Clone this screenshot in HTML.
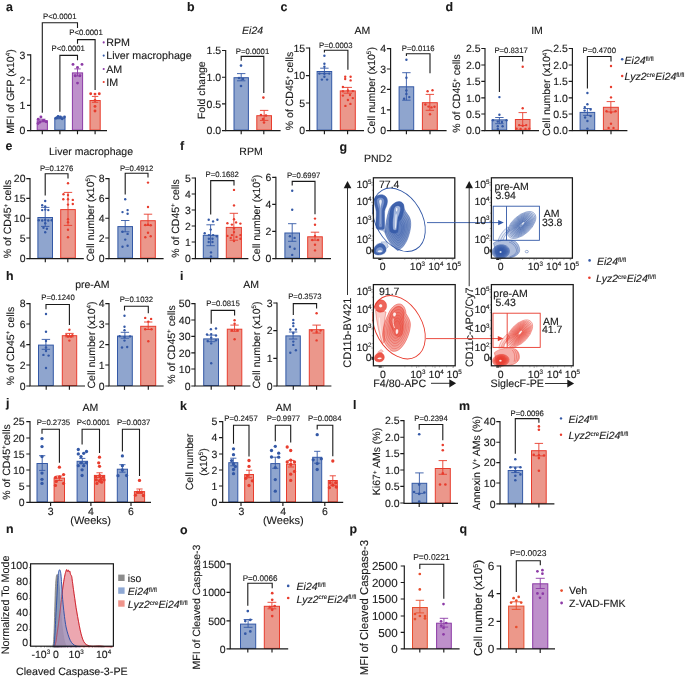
<!DOCTYPE html>
<html><head><meta charset="utf-8"><title>Figure</title>
<style>
html,body{margin:0;padding:0;background:#fff;}
body{width:685px;height:678px;overflow:hidden;}
svg{display:block;font-family:"Liberation Sans",sans-serif;text-rendering:geometricPrecision;will-change:transform;}
text{fill:#1a1a1a;stroke:#1a1a1a;stroke-width:0.12px;}
</style></head><body>
<svg width="685" height="678" viewBox="0 0 685 678">
<rect width="685" height="678" fill="#ffffff"/>
<g id="bars">
<text x="6" y="10.6" font-size="12.4" font-weight="bold">a</text>
<rect x="37.2" y="120.8" width="10.2" height="9.3" fill="#be90cb" stroke="#8c3aa6" stroke-width="1"/>
<path d="M42.3 119.2V121.8M39.1 119.2h6.4M39.1 121.8h6.4" stroke="#8c3aa6" stroke-width="0.9" fill="none"/>
<g fill="#8c3aa6"><circle cx="40.9" cy="117" r="1.45"/><circle cx="38.2" cy="119.3" r="1.45"/><circle cx="43.9" cy="120.5" r="1.45"/><circle cx="39.8" cy="122.3" r="1.45"/><circle cx="46.2" cy="121.7" r="1.45"/><circle cx="38" cy="123.5" r="1.45"/></g>
<rect x="54.8" y="118.1" width="10.2" height="12" fill="#8fa5ce" stroke="#3358a6" stroke-width="1"/>
<path d="M59.9 117V118.8M56.7 117h6.4M56.7 118.8h6.4" stroke="#3358a6" stroke-width="0.9" fill="none"/>
<g fill="#3358a6"><circle cx="55.9" cy="118.2" r="1.45"/><circle cx="58.1" cy="116.4" r="1.45"/><circle cx="60.4" cy="117" r="1.45"/><circle cx="62.2" cy="118.7" r="1.45"/><circle cx="64.5" cy="117" r="1.45"/><circle cx="57.1" cy="117.6" r="1.45"/></g>
<rect x="72.4" y="72.9" width="10.2" height="57.2" fill="#be90cb" stroke="#8c3aa6" stroke-width="1"/>
<path d="M77.5 68.9V76M74.3 68.9h6.4M74.3 76h6.4" stroke="#8c3aa6" stroke-width="0.9" fill="none"/>
<g fill="#8c3aa6"><circle cx="73" cy="64.4" r="1.45"/><circle cx="82" cy="64.4" r="1.45"/><circle cx="77.5" cy="67.4" r="1.45"/><circle cx="75.2" cy="75.7" r="1.45"/><circle cx="79.9" cy="75.7" r="1.45"/><circle cx="77.5" cy="83.1" r="1.45"/></g>
<rect x="90" y="100.5" width="10.2" height="29.6" fill="#eb978b" stroke="#e83c2d" stroke-width="1"/>
<path d="M95.1 96.4V102.3M91.9 96.4h6.4M91.9 102.3h6.4" stroke="#e83c2d" stroke-width="0.9" fill="none"/>
<g fill="#e83c2d"><circle cx="90.7" cy="93.8" r="1.45"/><circle cx="95" cy="94.1" r="1.45"/><circle cx="99.3" cy="93.8" r="1.45"/><circle cx="95" cy="100.4" r="1.45"/><circle cx="95" cy="106.4" r="1.45"/><circle cx="95" cy="111" r="1.45"/></g>
<path d="M42.3 112.8V22.8H77.5V28" stroke="#1a1a1a" stroke-width="1.1" fill="none"/>
<text x="59.8" y="18.57" font-size="7.75" text-anchor="middle" fill="#262626" stroke="#262626" stroke-width="0.18">P&lt;0.0001</text>
<path d="M77.5 43.8V39.6H95.1V90" stroke="#1a1a1a" stroke-width="1.1" fill="none"/>
<text x="86" y="34.97" font-size="7.75" text-anchor="middle" fill="#262626" stroke="#262626" stroke-width="0.18">P&lt;0.0001</text>
<path d="M59.9 111.7V55.4H77.5V60.3" stroke="#1a1a1a" stroke-width="1.1" fill="none"/>
<text x="68.2" y="51.37" font-size="7.75" text-anchor="middle" fill="#262626" stroke="#262626" stroke-width="0.18">P&lt;0.0001</text>
<text transform="translate(9.8 91.5) rotate(-90)" x="0" y="3.76" font-size="10.5" text-anchor="middle">MFI of GFP (x10<tspan dy="-3.78" font-size="6.3">4</tspan><tspan dy="3.78">)</tspan></text>
<circle cx="103.7" cy="42.4" r="1.05" fill="#8c3aa6"/>
<text x="106.2" y="46.23" font-size="10.7">RPM</text>
<circle cx="103.7" cy="55.6" r="1.05" fill="#3358a6"/>
<text x="106.2" y="59.43" font-size="10.7">Liver macrophage</text>
<circle cx="103.7" cy="69" r="1.05" fill="#8c3aa6"/>
<text x="106.2" y="72.83" font-size="10.7">AM</text>
<circle cx="103.7" cy="82" r="1.05" fill="#e83c2d"/>
<text x="106.2" y="85.83" font-size="10.7">IM</text>
<text x="187" y="11" font-size="12.4" font-weight="bold">b</text>
<text x="252.6" y="33.76" font-size="10.5" text-anchor="middle" font-style="italic">Ei24</text>
<rect x="234" y="77.7" width="14.4" height="52.4" fill="#8fa5ce" stroke="#3358a6" stroke-width="1"/>
<path d="M241.2 73.6V80.8M237 73.6h8.4M237 80.8h8.4" stroke="#3358a6" stroke-width="0.9" fill="none"/>
<g fill="#3358a6"><circle cx="241" cy="65.6" r="1.3"/><circle cx="239" cy="78" r="1.3"/><circle cx="243" cy="79" r="1.3"/><circle cx="241" cy="86" r="1.3"/></g>
<rect x="256.8" y="115.7" width="14.7" height="14.4" fill="#eb978b" stroke="#e83c2d" stroke-width="1"/>
<path d="M264.15 110.4V120.4M259.95 110.4h8.4M259.95 120.4h8.4" stroke="#e83c2d" stroke-width="0.9" fill="none"/>
<g fill="#e83c2d"><circle cx="263.4" cy="97.6" r="1.3"/><circle cx="261" cy="115" r="1.3"/><circle cx="266" cy="115.5" r="1.3"/><circle cx="263" cy="119" r="1.3"/><circle cx="264" cy="122.5" r="1.3"/></g>
<path d="M241.2 60.8V56.4H263.8V93" stroke="#1a1a1a" stroke-width="1.1" fill="none"/>
<text x="252.5" y="53.77" font-size="7.75" text-anchor="middle" fill="#262626" stroke="#262626" stroke-width="0.18">P=0.0001</text>
<text transform="translate(201.4 90.2) rotate(-90)" x="0" y="3.76" font-size="10.5" text-anchor="middle">Fold change</text>
<text x="280.6" y="10.7" font-size="12.4" font-weight="bold">c</text>
<text x="362.4" y="33.76" font-size="10.5" text-anchor="middle">AM</text>
<rect x="317.1" y="71.5" width="14.6" height="58.6" fill="#8fa5ce" stroke="#3358a6" stroke-width="1"/>
<path d="M324.4 68.2V73.6M320.2 68.2h8.4M320.2 73.6h8.4" stroke="#3358a6" stroke-width="0.9" fill="none"/>
<g fill="#3358a6"><circle cx="324.4" cy="55.7" r="1.2"/><circle cx="324.4" cy="63.8" r="1.2"/><circle cx="324.4" cy="66.8" r="1.2"/><circle cx="319.4" cy="73.6" r="1.2"/><circle cx="324.4" cy="73.8" r="1.2"/><circle cx="329.3" cy="73.6" r="1.2"/><circle cx="324.4" cy="76.7" r="1.2"/><circle cx="321.9" cy="79.6" r="1.2"/><circle cx="327.1" cy="79.6" r="1.2"/></g>
<rect x="340.3" y="90.9" width="15" height="39.2" fill="#eb978b" stroke="#e83c2d" stroke-width="1"/>
<path d="M347.8 87.4V93.2M343.6 87.4h8.4M343.6 93.2h8.4" stroke="#e83c2d" stroke-width="0.9" fill="none"/>
<g fill="#e83c2d"><circle cx="345.2" cy="76.7" r="1.2"/><circle cx="350.6" cy="76.7" r="1.2"/><circle cx="345.2" cy="79" r="1.2"/><circle cx="350.6" cy="80.4" r="1.2"/><circle cx="342.9" cy="87" r="1.2"/><circle cx="342.9" cy="91.3" r="1.2"/><circle cx="352.8" cy="91.1" r="1.2"/><circle cx="342.9" cy="95.6" r="1.2"/><circle cx="352.8" cy="98.1" r="1.2"/><circle cx="347.9" cy="100" r="1.2"/><circle cx="350.4" cy="103.9" r="1.2"/><circle cx="345.4" cy="105.9" r="1.2"/><circle cx="347.9" cy="90.5" r="1.2"/><circle cx="350" cy="95" r="1.2"/></g>
<path d="M324.4 52.6V50.2H347.9V69.7" stroke="#1a1a1a" stroke-width="1.1" fill="none"/>
<text x="335.8" y="47.57" font-size="7.75" text-anchor="middle" fill="#262626" stroke="#262626" stroke-width="0.18">P=0.0003</text>
<text transform="translate(289.6 91) rotate(-90)" x="0" y="3.76" font-size="10.5" text-anchor="middle">% of CD45<tspan dy="-3.78" font-size="6.3">+</tspan><tspan dy="3.78"> cells</tspan></text>
<text transform="translate(371.4 90.6) rotate(-90)" x="0" y="3.76" font-size="10.5" text-anchor="middle">Cell number (x10<tspan dy="-3.78" font-size="6.3">5</tspan><tspan dy="3.78">)</tspan></text>
<rect x="399.1" y="86.8" width="14.6" height="43.3" fill="#8fa5ce" stroke="#3358a6" stroke-width="1"/>
<path d="M406.4 72.7V100.2M402.2 72.7h8.4M402.2 100.2h8.4" stroke="#3358a6" stroke-width="0.9" fill="none"/>
<g fill="#3358a6"><circle cx="406.4" cy="59.7" r="1.2"/><circle cx="406.4" cy="77.7" r="1.2"/><circle cx="406.4" cy="90.5" r="1.2"/><circle cx="406.4" cy="93.9" r="1.2"/><circle cx="404.1" cy="98.8" r="1.2"/><circle cx="409.3" cy="97.1" r="1.2"/></g>
<rect x="422.4" y="102.7" width="14.9" height="27.4" fill="#eb978b" stroke="#e83c2d" stroke-width="1"/>
<path d="M429.85 94.4V110.3M425.65 94.4h8.4M425.65 110.3h8.4" stroke="#e83c2d" stroke-width="0.9" fill="none"/>
<g fill="#e83c2d"><circle cx="427.6" cy="91.2" r="1.2"/><circle cx="432.5" cy="90.2" r="1.2"/><circle cx="425.4" cy="104.5" r="1.2"/><circle cx="434.5" cy="106.8" r="1.2"/><circle cx="428.5" cy="106.6" r="1.2"/><circle cx="431.5" cy="107.4" r="1.2"/><circle cx="430" cy="114.3" r="1.2"/></g>
<path d="M406.4 55.9V53.8H430V73.2" stroke="#1a1a1a" stroke-width="1.1" fill="none"/>
<text x="418.2" y="50.97" font-size="7.75" text-anchor="middle" fill="#262626" stroke="#262626" stroke-width="0.18">P=0.0116</text>
<text x="445.4" y="11" font-size="12.4" font-weight="bold">d</text>
<text x="537" y="33.76" font-size="10.5" text-anchor="middle">IM</text>
<rect x="492.1" y="119.9" width="14.6" height="10.2" fill="#8fa5ce" stroke="#3358a6" stroke-width="1"/>
<path d="M499.4 117.5V123.7M495.2 117.5h8.4M495.2 123.7h8.4" stroke="#3358a6" stroke-width="0.9" fill="none"/>
<g fill="#3358a6"><circle cx="499.4" cy="97.1" r="1.2"/><circle cx="499.4" cy="114.7" r="1.2"/><circle cx="492.9" cy="120.3" r="1.2"/><circle cx="506.5" cy="120.3" r="1.2"/><circle cx="497.8" cy="121.6" r="1.2"/><circle cx="501.9" cy="122" r="1.2"/><circle cx="497.8" cy="126.2" r="1.2"/><circle cx="502.6" cy="126.2" r="1.2"/><circle cx="497.8" cy="129" r="1.2"/></g>
<rect x="515.4" y="119.5" width="14.6" height="10.6" fill="#eb978b" stroke="#e83c2d" stroke-width="1"/>
<path d="M522.7 112.6V125.5M518.5 112.6h8.4M518.5 125.5h8.4" stroke="#e83c2d" stroke-width="0.9" fill="none"/>
<g fill="#e83c2d"><circle cx="522.7" cy="66.7" r="1.2"/><circle cx="522.7" cy="108.2" r="1.2"/><circle cx="519.2" cy="125.1" r="1.2"/><circle cx="522.7" cy="125.8" r="1.2"/><circle cx="526.2" cy="125.1" r="1.2"/><circle cx="516.5" cy="128.6" r="1.2"/><circle cx="520.6" cy="129" r="1.2"/><circle cx="525.5" cy="129" r="1.2"/><circle cx="529.2" cy="128.6" r="1.2"/></g>
<path d="M499.4 91.9V56.5H522.7V61.4" stroke="#1a1a1a" stroke-width="1.1" fill="none"/>
<text x="511.1" y="52.57" font-size="7.75" text-anchor="middle" fill="#262626" stroke="#262626" stroke-width="0.18">P=0.8317</text>
<text transform="translate(456.6 93.5) rotate(-90)" x="0" y="3.76" font-size="10.5" text-anchor="middle">% of CD45<tspan dy="-3.78" font-size="6.3">+</tspan><tspan dy="3.78"> cells</tspan></text>
<text transform="translate(546.6 92.6) rotate(-90)" x="0" y="3.76" font-size="10.5" text-anchor="middle">Cell number (x10<tspan dy="-3.78" font-size="6.3">4</tspan><tspan dy="3.78">)</tspan></text>
<rect x="580.1" y="112.4" width="14.6" height="17.7" fill="#8fa5ce" stroke="#3358a6" stroke-width="1"/>
<path d="M587.4 108.5V115.4M583.2 108.5h8.4M583.2 115.4h8.4" stroke="#3358a6" stroke-width="0.9" fill="none"/>
<g fill="#3358a6"><circle cx="587.4" cy="93" r="1.2"/><circle cx="587.4" cy="104.3" r="1.2"/><circle cx="584.8" cy="107.1" r="1.2"/><circle cx="590.6" cy="109.5" r="1.2"/><circle cx="584.6" cy="110.6" r="1.2"/><circle cx="590.6" cy="116.1" r="1.2"/><circle cx="585.1" cy="117.5" r="1.2"/><circle cx="587.4" cy="121" r="1.2"/><circle cx="587.4" cy="128.6" r="1.2"/></g>
<rect x="603.4" y="107.3" width="14.9" height="22.8" fill="#eb978b" stroke="#e83c2d" stroke-width="1"/>
<path d="M610.85 101.6V111.9M606.65 101.6h8.4M606.65 111.9h8.4" stroke="#e83c2d" stroke-width="0.9" fill="none"/>
<g fill="#e83c2d"><circle cx="611" cy="66" r="1.2"/><circle cx="611" cy="87" r="1.2"/><circle cx="611" cy="97.4" r="1.2"/><circle cx="606.5" cy="111.3" r="1.2"/><circle cx="611" cy="112.6" r="1.2"/><circle cx="615.6" cy="111.3" r="1.2"/><circle cx="611" cy="123.7" r="1.2"/><circle cx="608.6" cy="127.9" r="1.2"/><circle cx="613.5" cy="127.9" r="1.2"/></g>
<path d="M587.4 88.4V56.5H611V61.4" stroke="#1a1a1a" stroke-width="1.1" fill="none"/>
<text x="599.3" y="53.07" font-size="7.75" text-anchor="middle" fill="#262626" stroke="#262626" stroke-width="0.18">P=0.4700</text>
<circle cx="622.2" cy="59.3" r="1.25" fill="#3358a6"/>
<text x="624.6" y="63.86" font-size="10.5" font-style="italic">Ei24<tspan dy="-3.2" font-size="6.3" font-style="normal">fl/fl</tspan></text>
<circle cx="622.2" cy="75.9" r="1.25" fill="#e83c2d"/>
<text x="624.6" y="80.46" font-size="10.5" font-style="italic">Lyz2<tspan dy="-3.2" font-size="6.3" font-style="normal">cre</tspan><tspan dy="3.2">Ei24</tspan><tspan dy="-3.2" font-size="6.3" font-style="normal">fl/fl</tspan></text>
<text x="5.6" y="150.2" font-size="12.4" font-weight="bold">e</text>
<text x="91" y="155.36" font-size="10.5" text-anchor="middle">Liver macrophage</text>
<rect x="37.9" y="217.5" width="14.6" height="40.6" fill="#8fa5ce" stroke="#3358a6" stroke-width="1"/>
<path d="M45.2 207.4V226.4M41 207.4h8.4M41 226.4h8.4" stroke="#3358a6" stroke-width="0.9" fill="none"/>
<g fill="#3358a6"><circle cx="45.2" cy="201" r="1.2"/><circle cx="42.2" cy="205.3" r="1.2"/><circle cx="45.2" cy="206.4" r="1.2"/><circle cx="42.2" cy="210.1" r="1.2"/><circle cx="48.3" cy="210.1" r="1.2"/><circle cx="45.2" cy="209.6" r="1.2"/><circle cx="38.8" cy="220.3" r="1.2"/><circle cx="42.2" cy="220.5" r="1.2"/><circle cx="45.2" cy="220" r="1.2"/><circle cx="48.3" cy="220.5" r="1.2"/><circle cx="51.7" cy="220.3" r="1.2"/><circle cx="45.2" cy="223.3" r="1.2"/><circle cx="43.5" cy="227.7" r="1.2"/><circle cx="46.9" cy="228.7" r="1.2"/><circle cx="45.2" cy="232.2" r="1.2"/></g>
<rect x="60.7" y="209.6" width="14.6" height="48.5" fill="#eb978b" stroke="#e83c2d" stroke-width="1"/>
<path d="M68 192.4V225.4M63.8 192.4h8.4M63.8 225.4h8.4" stroke="#e83c2d" stroke-width="0.9" fill="none"/>
<g fill="#e83c2d"><circle cx="68" cy="183.2" r="1.2"/><circle cx="63.5" cy="194.2" r="1.2"/><circle cx="68" cy="195.1" r="1.2"/><circle cx="63.3" cy="199.2" r="1.2"/><circle cx="68" cy="199.2" r="1.2"/><circle cx="72.8" cy="199.9" r="1.2"/><circle cx="72.8" cy="204" r="1.2"/><circle cx="68" cy="204.6" r="1.2"/><circle cx="68" cy="219.2" r="1.2"/><circle cx="68" cy="222.3" r="1.2"/><circle cx="68" cy="229.8" r="1.2"/><circle cx="68" cy="237.3" r="1.2"/></g>
<path d="M45.2 195.5V173.7H68V178.4" stroke="#1a1a1a" stroke-width="1.1" fill="none"/>
<text x="56.6" y="170.97" font-size="7.75" text-anchor="middle" fill="#262626" stroke="#262626" stroke-width="0.18">P=0.1276</text>
<text transform="translate(7.7 219) rotate(-90)" x="0" y="3.76" font-size="10.5" text-anchor="middle">% of CD45<tspan dy="-3.78" font-size="6.3">+</tspan><tspan dy="3.78"> cells</tspan></text>
<text transform="translate(90 218) rotate(-90)" x="0" y="3.76" font-size="10.5" text-anchor="middle">Cell number (x10<tspan dy="-3.78" font-size="6.3">5</tspan><tspan dy="3.78">)</tspan></text>
<rect x="117.9" y="226.6" width="14.6" height="31.5" fill="#8fa5ce" stroke="#3358a6" stroke-width="1"/>
<path d="M125.2 220.5V231.8M121 220.5h8.4M121 231.8h8.4" stroke="#3358a6" stroke-width="0.9" fill="none"/>
<g fill="#3358a6"><circle cx="125.2" cy="199.2" r="1.2"/><circle cx="122.5" cy="212.1" r="1.2"/><circle cx="127.6" cy="210.1" r="1.2"/><circle cx="127.6" cy="213.8" r="1.2"/><circle cx="122.5" cy="231.8" r="1.2"/><circle cx="127.6" cy="233.9" r="1.2"/><circle cx="125.2" cy="239.6" r="1.2"/><circle cx="122.5" cy="246.8" r="1.2"/><circle cx="127.6" cy="245.8" r="1.2"/></g>
<rect x="140.7" y="220.7" width="14.6" height="37.4" fill="#eb978b" stroke="#e83c2d" stroke-width="1"/>
<path d="M148 214.2V225.4M143.8 214.2h8.4M143.8 225.4h8.4" stroke="#e83c2d" stroke-width="0.9" fill="none"/>
<g fill="#e83c2d"><circle cx="148" cy="182.6" r="1.2"/><circle cx="148" cy="207" r="1.2"/><circle cx="145.3" cy="225" r="1.2"/><circle cx="150.7" cy="225.3" r="1.2"/><circle cx="148" cy="224.6" r="1.2"/><circle cx="148" cy="232.8" r="1.2"/><circle cx="145.3" cy="237.3" r="1.2"/><circle cx="150.7" cy="236.2" r="1.2"/></g>
<path d="M125.2 194.5V173.2H148V177.5" stroke="#1a1a1a" stroke-width="1.1" fill="none"/>
<text x="136.6" y="170.97" font-size="7.75" text-anchor="middle" fill="#262626" stroke="#262626" stroke-width="0.18">P=0.4912</text>
<text x="180" y="150.2" font-size="12.4" font-weight="bold">f</text>
<text x="251" y="155.36" font-size="10.5" text-anchor="middle">RPM</text>
<rect x="203.3" y="235.3" width="14.6" height="22.8" fill="#8fa5ce" stroke="#3358a6" stroke-width="1"/>
<path d="M210.6 224.8V245.7M206.4 224.8h8.4M206.4 245.7h8.4" stroke="#3358a6" stroke-width="0.9" fill="none"/>
<g fill="#3358a6"><circle cx="208.7" cy="219.7" r="1.2"/><circle cx="213.1" cy="221.4" r="1.2"/><circle cx="217.4" cy="219.7" r="1.2"/><circle cx="210.7" cy="229.6" r="1.2"/><circle cx="204.7" cy="233.3" r="1.2"/><circle cx="208.9" cy="235.1" r="1.2"/><circle cx="213.1" cy="235.1" r="1.2"/><circle cx="216.8" cy="236.3" r="1.2"/><circle cx="208.9" cy="238.7" r="1.2"/><circle cx="212.5" cy="238.7" r="1.2"/><circle cx="208.7" cy="242" r="1.2"/><circle cx="212.5" cy="242" r="1.2"/><circle cx="211" cy="252.4" r="1.2"/><circle cx="211" cy="256.5" r="1.2"/></g>
<rect x="226.3" y="227.4" width="15.1" height="30.7" fill="#eb978b" stroke="#e83c2d" stroke-width="1"/>
<path d="M233.85 213.3V240.2M229.65 213.3h8.4M229.65 240.2h8.4" stroke="#e83c2d" stroke-width="0.9" fill="none"/>
<g fill="#e83c2d"><circle cx="234" cy="189.9" r="1.2"/><circle cx="234" cy="205.4" r="1.2"/><circle cx="234" cy="219.3" r="1.2"/><circle cx="227.4" cy="223.2" r="1.2"/><circle cx="231.9" cy="224.6" r="1.2"/><circle cx="236.1" cy="222.4" r="1.2"/><circle cx="240.4" cy="223.6" r="1.2"/><circle cx="234" cy="228.4" r="1.2"/><circle cx="234" cy="232.1" r="1.2"/><circle cx="227.4" cy="235.9" r="1.2"/><circle cx="231.9" cy="235.1" r="1.2"/><circle cx="240.4" cy="235.1" r="1.2"/><circle cx="230.7" cy="237.9" r="1.2"/><circle cx="236.5" cy="236.9" r="1.2"/><circle cx="240.4" cy="238.7" r="1.2"/><circle cx="234" cy="241.1" r="1.2"/></g>
<path d="M210.7 214.5V180.6H234V185.4" stroke="#1a1a1a" stroke-width="1.1" fill="none"/>
<text x="222.2" y="177.37" font-size="7.75" text-anchor="middle" fill="#262626" stroke="#262626" stroke-width="0.18">P=0.1682</text>
<text transform="translate(175.4 218.5) rotate(-90)" x="0" y="3.76" font-size="10.5" text-anchor="middle">% of CD45<tspan dy="-3.78" font-size="6.3">+</tspan><tspan dy="3.78"> cells</tspan></text>
<text transform="translate(256.4 218.3) rotate(-90)" x="0" y="3.76" font-size="10.5" text-anchor="middle">Cell number (x10<tspan dy="-3.78" font-size="6.3">5</tspan><tspan dy="3.78">)</tspan></text>
<rect x="284.9" y="233" width="14.6" height="25.1" fill="#8fa5ce" stroke="#3358a6" stroke-width="1"/>
<path d="M292.2 223.7V241.3M288 223.7h8.4M288 241.3h8.4" stroke="#3358a6" stroke-width="0.9" fill="none"/>
<g fill="#3358a6"><circle cx="292.2" cy="190.7" r="1.2"/><circle cx="292.2" cy="209.8" r="1.2"/><circle cx="289.9" cy="236.3" r="1.2"/><circle cx="294.6" cy="237.9" r="1.2"/><circle cx="289.9" cy="246.8" r="1.2"/><circle cx="294.6" cy="248.8" r="1.2"/><circle cx="292.2" cy="254.9" r="1.2"/></g>
<rect x="307.7" y="236.8" width="14.6" height="21.3" fill="#eb978b" stroke="#e83c2d" stroke-width="1"/>
<path d="M315 232.2V240.2M310.8 232.2h8.4M310.8 240.2h8.4" stroke="#e83c2d" stroke-width="0.9" fill="none"/>
<g fill="#e83c2d"><circle cx="315" cy="218.6" r="1.2"/><circle cx="315" cy="224.8" r="1.2"/><circle cx="315" cy="235.9" r="1.2"/><circle cx="312.3" cy="240" r="1.2"/><circle cx="318.1" cy="240" r="1.2"/><circle cx="315" cy="244.7" r="1.2"/><circle cx="315" cy="250.4" r="1.2"/></g>
<path d="M292.2 185.6V181.4H315V214.2" stroke="#1a1a1a" stroke-width="1.1" fill="none"/>
<text x="303.6" y="177.97" font-size="7.75" text-anchor="middle" fill="#262626" stroke="#262626" stroke-width="0.18">P=0.6997</text>
<text x="6" y="280" font-size="12.4" font-weight="bold">h</text>
<text x="92.4" y="288.16" font-size="10.5" text-anchor="middle">pre-AM</text>
<rect x="38.5" y="345.1" width="14.8" height="40.4" fill="#8fa5ce" stroke="#3358a6" stroke-width="1"/>
<path d="M45.9 339.4V349.3M41.7 339.4h8.4M41.7 349.3h8.4" stroke="#3358a6" stroke-width="0.9" fill="none"/>
<g fill="#3358a6"><circle cx="46" cy="314" r="1.2"/><circle cx="46" cy="331.7" r="1.2"/><circle cx="46" cy="341" r="1.2"/><circle cx="46" cy="347.4" r="1.2"/><circle cx="43.4" cy="354.9" r="1.2"/><circle cx="48.6" cy="355.6" r="1.2"/><circle cx="46" cy="351" r="1.2"/><circle cx="46" cy="368" r="1.2"/></g>
<rect x="62.3" y="335.7" width="14.4" height="49.8" fill="#eb978b" stroke="#e83c2d" stroke-width="1"/>
<path d="M69.5 333.4V336.9M65.3 333.4h8.4M65.3 336.9h8.4" stroke="#e83c2d" stroke-width="0.9" fill="none"/>
<g fill="#e83c2d"><circle cx="69.4" cy="329.7" r="1.2"/><circle cx="66.3" cy="335.2" r="1.2"/><circle cx="72.4" cy="335.2" r="1.2"/><circle cx="68" cy="336.6" r="1.2"/><circle cx="71" cy="336.6" r="1.2"/><circle cx="69.4" cy="340.6" r="1.2"/></g>
<path d="M46 309.2V304.5H69.4V325.1" stroke="#1a1a1a" stroke-width="1.1" fill="none"/>
<text x="58" y="300.37" font-size="7.75" text-anchor="middle" fill="#262626" stroke="#262626" stroke-width="0.18">P=0.1240</text>
<text transform="translate(10 346) rotate(-90)" x="0" y="3.76" font-size="10.5" text-anchor="middle">% of CD45<tspan dy="-3.78" font-size="6.3">+</tspan><tspan dy="3.78"> cells</tspan></text>
<text transform="translate(91 345) rotate(-90)" x="0" y="3.76" font-size="10.5" text-anchor="middle">Cell number (x10<tspan dy="-3.78" font-size="6.3">4</tspan><tspan dy="3.78">)</tspan></text>
<rect x="117.5" y="336.1" width="14.8" height="49.4" fill="#8fa5ce" stroke="#3358a6" stroke-width="1"/>
<path d="M124.9 332.3V338.2M120.7 332.3h8.4M120.7 338.2h8.4" stroke="#3358a6" stroke-width="0.9" fill="none"/>
<g fill="#3358a6"><circle cx="124.5" cy="315.8" r="1.2"/><circle cx="124.5" cy="326.7" r="1.2"/><circle cx="124.5" cy="330.3" r="1.2"/><circle cx="119.6" cy="336.2" r="1.2"/><circle cx="130" cy="336.4" r="1.2"/><circle cx="124.5" cy="337" r="1.2"/><circle cx="124.5" cy="340.6" r="1.2"/><circle cx="122" cy="347.5" r="1.2"/><circle cx="127.2" cy="347" r="1.2"/></g>
<rect x="140.7" y="326.3" width="15" height="59.2" fill="#eb978b" stroke="#e83c2d" stroke-width="1"/>
<path d="M148.2 322V329.5M144 322h8.4M144 329.5h8.4" stroke="#e83c2d" stroke-width="0.9" fill="none"/>
<g fill="#e83c2d"><circle cx="145.2" cy="317.9" r="1.2"/><circle cx="151.1" cy="318.9" r="1.2"/><circle cx="148.3" cy="321.6" r="1.2"/><circle cx="145.2" cy="329.2" r="1.2"/><circle cx="151.5" cy="329.2" r="1.2"/><circle cx="148.3" cy="341.2" r="1.2"/></g>
<path d="M124.5 310.5V306.2H148.3V313.3" stroke="#1a1a1a" stroke-width="1.1" fill="none"/>
<text x="136.4" y="301.77" font-size="7.75" text-anchor="middle" fill="#262626" stroke="#262626" stroke-width="0.18">P=0.1032</text>
<text x="180" y="280" font-size="12.4" font-weight="bold">i</text>
<text x="251" y="288.16" font-size="10.5" text-anchor="middle">AM</text>
<rect x="203.7" y="338.9" width="14.8" height="46.6" fill="#8fa5ce" stroke="#3358a6" stroke-width="1"/>
<path d="M211.1 335.1V341.7M206.9 335.1h8.4M206.9 341.7h8.4" stroke="#3358a6" stroke-width="0.9" fill="none"/>
<g fill="#3358a6"><circle cx="210.9" cy="329.2" r="1.2"/><circle cx="216" cy="328.5" r="1.2"/><circle cx="207" cy="334.5" r="1.2"/><circle cx="211.2" cy="334.1" r="1.2"/><circle cx="216" cy="335.5" r="1.2"/><circle cx="211.2" cy="337.6" r="1.2"/><circle cx="216" cy="340.3" r="1.2"/><circle cx="207.7" cy="341" r="1.2"/><circle cx="211.2" cy="343.4" r="1.2"/><circle cx="211.2" cy="363.2" r="1.2"/></g>
<rect x="227.3" y="329.2" width="14.5" height="56.3" fill="#eb978b" stroke="#e83c2d" stroke-width="1"/>
<path d="M234.55 325.1V331.3M230.35 325.1h8.4M230.35 331.3h8.4" stroke="#e83c2d" stroke-width="0.9" fill="none"/>
<g fill="#e83c2d"><circle cx="234.6" cy="320.2" r="1.2"/><circle cx="234.6" cy="323.7" r="1.2"/><circle cx="231.9" cy="330.3" r="1.2"/><circle cx="237.5" cy="330.3" r="1.2"/><circle cx="234.6" cy="339.2" r="1.2"/></g>
<path d="M211.2 323.7V310.4H234.6V315.4" stroke="#1a1a1a" stroke-width="1.1" fill="none"/>
<text x="223" y="305.97" font-size="7.75" text-anchor="middle" fill="#262626" stroke="#262626" stroke-width="0.18">P=0.0815</text>
<text transform="translate(171 344.5) rotate(-90)" x="0" y="3.76" font-size="10.5" text-anchor="middle">% of CD45<tspan dy="-3.78" font-size="6.3">+</tspan><tspan dy="3.78"> cells</tspan></text>
<text transform="translate(256.4 345) rotate(-90)" x="0" y="3.76" font-size="10.5" text-anchor="middle">Cell number (x10<tspan dy="-3.78" font-size="6.3">5</tspan><tspan dy="3.78">)</tspan></text>
<rect x="285.9" y="335.9" width="14.4" height="49.6" fill="#8fa5ce" stroke="#3358a6" stroke-width="1"/>
<path d="M293.1 332V339M288.9 332h8.4M288.9 339h8.4" stroke="#3358a6" stroke-width="0.9" fill="none"/>
<g fill="#3358a6"><circle cx="293.3" cy="320" r="1.2"/><circle cx="293.3" cy="323.2" r="1.2"/><circle cx="293.3" cy="326.1" r="1.2"/><circle cx="290.3" cy="329.5" r="1.2"/><circle cx="295.9" cy="329.5" r="1.2"/><circle cx="293.3" cy="333" r="1.2"/><circle cx="293.3" cy="341.6" r="1.2"/><circle cx="293.3" cy="344.9" r="1.2"/><circle cx="290.3" cy="352.7" r="1.2"/><circle cx="295.9" cy="350.2" r="1.2"/></g>
<rect x="309.3" y="329.7" width="14.6" height="55.8" fill="#eb978b" stroke="#e83c2d" stroke-width="1"/>
<path d="M316.6 325.1V333.1M312.4 325.1h8.4M312.4 333.1h8.4" stroke="#e83c2d" stroke-width="0.9" fill="none"/>
<g fill="#e83c2d"><circle cx="316.6" cy="313.2" r="1.2"/><circle cx="311.7" cy="330.6" r="1.2"/><circle cx="320.6" cy="330.6" r="1.2"/><circle cx="316.6" cy="332" r="1.2"/><circle cx="316.6" cy="340.4" r="1.2"/></g>
<path d="M293.3 315.1V303.6H316.6V308.4" stroke="#1a1a1a" stroke-width="1.1" fill="none"/>
<text x="304.9" y="299.37" font-size="7.75" text-anchor="middle" fill="#262626" stroke="#262626" stroke-width="0.18">P=0.3573</text>
<text x="6" y="407.4" font-size="12.4" font-weight="bold">j</text>
<text x="90.4" y="411.36" font-size="10.5" text-anchor="middle">AM</text>
<rect x="37" y="463.5" width="10.4" height="38.3" fill="#8fa5ce" stroke="#3358a6" stroke-width="1"/>
<path d="M42.2 455.7V470.4M39.1 455.7h6.2M39.1 470.4h6.2" stroke="#3358a6" stroke-width="0.9" fill="none"/>
<g fill="#3358a6"><circle cx="42" cy="438.6" r="1.65"/><circle cx="42" cy="446.6" r="1.65"/><circle cx="42" cy="456.6" r="1.65"/><circle cx="42" cy="473.1" r="1.65"/><circle cx="42" cy="479.3" r="1.65"/><circle cx="42" cy="483.4" r="1.65"/></g>
<rect x="54.1" y="478.1" width="10.4" height="23.7" fill="#eb978b" stroke="#e83c2d" stroke-width="1"/>
<path d="M59.3 476V480.5M56.2 476h6.2M56.2 480.5h6.2" stroke="#e83c2d" stroke-width="0.9" fill="none"/>
<g fill="#e83c2d"><circle cx="59.4" cy="467.2" r="1.65"/><circle cx="63.6" cy="474.6" r="1.65"/><circle cx="55.6" cy="477.5" r="1.65"/><circle cx="59.6" cy="477" r="1.65"/><circle cx="63.6" cy="483.4" r="1.65"/><circle cx="55.4" cy="485.4" r="1.65"/><circle cx="56.2" cy="481.4" r="1.65"/></g>
<rect x="77.1" y="461.3" width="10.4" height="40.5" fill="#8fa5ce" stroke="#3358a6" stroke-width="1"/>
<path d="M82.3 458.4V463.3M79.2 458.4h6.2M79.2 463.3h6.2" stroke="#3358a6" stroke-width="0.9" fill="none"/>
<g fill="#3358a6"><circle cx="78.3" cy="449.5" r="1.65"/><circle cx="86.5" cy="451.5" r="1.65"/><circle cx="78.3" cy="453.9" r="1.65"/><circle cx="83.7" cy="453.3" r="1.65"/><circle cx="81" cy="456.6" r="1.65"/><circle cx="78.3" cy="465.7" r="1.65"/><circle cx="83.7" cy="465.7" r="1.65"/><circle cx="81" cy="462.8" r="1.65"/><circle cx="86.5" cy="462.8" r="1.65"/><circle cx="82.1" cy="469.8" r="1.65"/><circle cx="82.1" cy="475.5" r="1.65"/></g>
<rect x="94.4" y="475.4" width="10.3" height="26.4" fill="#eb978b" stroke="#e83c2d" stroke-width="1"/>
<path d="M99.55 472.8V477.5M96.45 472.8h6.2M96.45 477.5h6.2" stroke="#e83c2d" stroke-width="0.9" fill="none"/>
<g fill="#e83c2d"><circle cx="99.5" cy="457.2" r="1.65"/><circle cx="98.7" cy="462.8" r="1.65"/><circle cx="99.5" cy="466.3" r="1.65"/><circle cx="95.7" cy="476.9" r="1.65"/><circle cx="99.8" cy="475.7" r="1.65"/><circle cx="103.4" cy="476.9" r="1.65"/><circle cx="96.3" cy="479.9" r="1.65"/><circle cx="101" cy="479.3" r="1.65"/><circle cx="104" cy="479.9" r="1.65"/><circle cx="96.9" cy="483.4" r="1.65"/><circle cx="101.6" cy="482.2" r="1.65"/><circle cx="99.3" cy="481" r="1.65"/></g>
<rect x="117.3" y="469.2" width="10.2" height="32.6" fill="#8fa5ce" stroke="#3358a6" stroke-width="1"/>
<path d="M122.4 464.7V472.2M119.3 464.7h6.2M119.3 472.2h6.2" stroke="#3358a6" stroke-width="0.9" fill="none"/>
<g fill="#3358a6"><circle cx="122.4" cy="455.9" r="1.65"/><circle cx="122.4" cy="465.7" r="1.65"/><circle cx="118" cy="475.7" r="1.65"/><circle cx="126.6" cy="475.5" r="1.65"/><circle cx="122.4" cy="470" r="1.65"/></g>
<rect x="134.4" y="491.6" width="10.2" height="10.2" fill="#eb978b" stroke="#e83c2d" stroke-width="1"/>
<path d="M139.5 489V493.4M136.4 489h6.2M136.4 493.4h6.2" stroke="#e83c2d" stroke-width="0.9" fill="none"/>
<g fill="#e83c2d"><circle cx="139.5" cy="480.4" r="1.65"/><circle cx="135.4" cy="495.2" r="1.65"/><circle cx="143.4" cy="495.5" r="1.65"/><circle cx="137.5" cy="492.2" r="1.65"/><circle cx="141.6" cy="492.2" r="1.65"/></g>
<path d="M42 433.8V429.3H59.4V462.8" stroke="#1a1a1a" stroke-width="1.1" fill="none"/>
<text x="53.4" y="424.77" font-size="7.75" text-anchor="middle" fill="#262626" stroke="#262626" stroke-width="0.18">P=0.2735</text>
<path d="M82.1 444.5V429.3H99.5V453" stroke="#1a1a1a" stroke-width="1.1" fill="none"/>
<text x="93.4" y="424.77" font-size="7.75" text-anchor="middle" fill="#262626" stroke="#262626" stroke-width="0.18">P&lt;0.0001</text>
<path d="M122.4 451.5V429.3H139.5V476" stroke="#1a1a1a" stroke-width="1.1" fill="none"/>
<text x="133.6" y="424.77" font-size="7.75" text-anchor="middle" fill="#262626" stroke="#262626" stroke-width="0.18">P=0.0037</text>
<text x="50.7" y="515.36" font-size="10.5" text-anchor="middle">3</text>
<text x="91" y="515.36" font-size="10.5" text-anchor="middle">4</text>
<text x="131" y="515.36" font-size="10.5" text-anchor="middle">6</text>
<text x="90.6" y="523.54" font-size="11" text-anchor="middle">(Weeks)</text>
<text transform="translate(6 462) rotate(-90)" x="0" y="3.76" font-size="10.5" text-anchor="middle">% of CD45<tspan dy="-3.78" font-size="6.3">+</tspan><tspan dy="3.78">cells</tspan></text>
<text x="180" y="410" font-size="12.4" font-weight="bold">k</text>
<text x="283.6" y="411.36" font-size="10.5" text-anchor="middle">AM</text>
<rect x="228.8" y="462.7" width="9" height="39.1" fill="#8fa5ce" stroke="#3358a6" stroke-width="1"/>
<path d="M233.3 458.2V465.8M230.2 458.2h6.2M230.2 465.8h6.2" stroke="#3358a6" stroke-width="0.9" fill="none"/>
<g fill="#3358a6"><circle cx="233.5" cy="448.8" r="1.65"/><circle cx="233.5" cy="454.7" r="1.65"/><circle cx="233.5" cy="463.9" r="1.65"/><circle cx="233.5" cy="469.5" r="1.65"/><circle cx="233.5" cy="473.7" r="1.65"/><circle cx="231.6" cy="460.6" r="1.65"/><circle cx="235.4" cy="466.6" r="1.65"/></g>
<rect x="244.7" y="474.5" width="8.8" height="27.3" fill="#eb978b" stroke="#e83c2d" stroke-width="1"/>
<path d="M249.1 470.2V477.7M246 470.2h6.2M246 477.7h6.2" stroke="#e83c2d" stroke-width="0.9" fill="none"/>
<g fill="#e83c2d"><circle cx="249" cy="460.5" r="1.65"/><circle cx="249" cy="466.4" r="1.65"/><circle cx="252.3" cy="480.8" r="1.65"/><circle cx="245.8" cy="478.3" r="1.65"/><circle cx="249" cy="485.5" r="1.65"/><circle cx="247.4" cy="475.6" r="1.65"/></g>
<rect x="270.8" y="463.6" width="9" height="38.2" fill="#8fa5ce" stroke="#3358a6" stroke-width="1"/>
<path d="M275.3 457.2V468.3M272.2 457.2h6.2M272.2 468.3h6.2" stroke="#3358a6" stroke-width="0.9" fill="none"/>
<g fill="#3358a6"><circle cx="275.3" cy="446.3" r="1.65"/><circle cx="271.5" cy="450.5" r="1.65"/><circle cx="278.7" cy="453.2" r="1.65"/><circle cx="271.5" cy="457" r="1.65"/><circle cx="278.7" cy="457.2" r="1.65"/><circle cx="275.3" cy="467.6" r="1.65"/><circle cx="275.3" cy="479.6" r="1.65"/><circle cx="275.3" cy="491.2" r="1.65"/></g>
<rect x="286.5" y="464.2" width="9" height="37.6" fill="#eb978b" stroke="#e83c2d" stroke-width="1"/>
<path d="M291 460.4V467M287.9 460.4h6.2M287.9 467h6.2" stroke="#e83c2d" stroke-width="0.9" fill="none"/>
<g fill="#e83c2d"><circle cx="287.2" cy="447" r="1.65"/><circle cx="290.7" cy="450.5" r="1.65"/><circle cx="290.7" cy="460.1" r="1.65"/><circle cx="287.2" cy="462" r="1.65"/><circle cx="294.5" cy="462" r="1.65"/><circle cx="290.7" cy="464.4" r="1.65"/><circle cx="294.5" cy="471.4" r="1.65"/><circle cx="290.7" cy="474.2" r="1.65"/><circle cx="290.7" cy="480.4" r="1.65"/></g>
<rect x="312.7" y="457.3" width="9" height="44.5" fill="#8fa5ce" stroke="#3358a6" stroke-width="1"/>
<path d="M317.2 451.3V463.2M314.1 451.3h6.2M314.1 463.2h6.2" stroke="#3358a6" stroke-width="0.9" fill="none"/>
<g fill="#3358a6"><circle cx="317.2" cy="434.7" r="1.65"/><circle cx="313.2" cy="459.8" r="1.65"/><circle cx="321.3" cy="458.8" r="1.65"/><circle cx="317.2" cy="463.6" r="1.65"/><circle cx="317.2" cy="469.5" r="1.65"/></g>
<rect x="328.3" y="480.5" width="9" height="21.3" fill="#eb978b" stroke="#e83c2d" stroke-width="1"/>
<path d="M332.8 475.8V485.2M329.7 475.8h6.2M329.7 485.2h6.2" stroke="#e83c2d" stroke-width="0.9" fill="none"/>
<g fill="#e83c2d"><circle cx="332.8" cy="461" r="1.65"/><circle cx="330.1" cy="482.7" r="1.65"/><circle cx="335.7" cy="482.7" r="1.65"/><circle cx="332.8" cy="485.2" r="1.65"/><circle cx="329.4" cy="487.7" r="1.65"/><circle cx="336.3" cy="487" r="1.65"/></g>
<path d="M233.5 443.8V425.3H249V456.4" stroke="#1a1a1a" stroke-width="1.1" fill="none"/>
<text x="241" y="421.17" font-size="7.75" text-anchor="middle" fill="#262626" stroke="#262626" stroke-width="0.18">P=0.2457</text>
<path d="M275.3 441.3V425.3H290.7V442.6" stroke="#1a1a1a" stroke-width="1.1" fill="none"/>
<text x="283.4" y="421.17" font-size="7.75" text-anchor="middle" fill="#262626" stroke="#262626" stroke-width="0.18">P=0.9977</text>
<path d="M317.2 429.4V425.3H332.8V456.3" stroke="#1a1a1a" stroke-width="1.1" fill="none"/>
<text x="324.8" y="421.17" font-size="7.75" text-anchor="middle" fill="#262626" stroke="#262626" stroke-width="0.18">P=0.0084</text>
<text x="241.3" y="515.36" font-size="10.5" text-anchor="middle">3</text>
<text x="283.2" y="515.36" font-size="10.5" text-anchor="middle">4</text>
<text x="325" y="515.36" font-size="10.5" text-anchor="middle">6</text>
<text x="283.3" y="523.54" font-size="11" text-anchor="middle">(Weeks)</text>
<text transform="translate(189.4 462) rotate(-90)" x="0" y="3.76" font-size="10.5" text-anchor="middle">Cell number</text>
<text transform="translate(203.4 462) rotate(-90)" x="0" y="3.76" font-size="10.5" text-anchor="middle">(x10<tspan dy="-3.78" font-size="6.3">5</tspan><tspan dy="3.78">)</tspan></text>
<text x="353" y="409.2" font-size="12.4" font-weight="bold">l</text>
<rect x="412.1" y="483.3" width="14.6" height="19.6" fill="#8fa5ce" stroke="#3358a6" stroke-width="1"/>
<path d="M419.4 472.9V493.4M415.2 472.9h8.4M415.2 493.4h8.4" stroke="#3358a6" stroke-width="0.9" fill="none"/>
<g fill="#3358a6"><circle cx="419.2" cy="434.2" r="1.3"/><circle cx="419.2" cy="484.6" r="1.3"/><circle cx="414.1" cy="492" r="1.3"/><circle cx="424.4" cy="492.5" r="1.3"/><circle cx="419.2" cy="493.9" r="1.3"/><circle cx="419.2" cy="501.5" r="1.3"/></g>
<rect x="435.3" y="468.5" width="15" height="34.4" fill="#eb978b" stroke="#e83c2d" stroke-width="1"/>
<path d="M442.8 460.6V474.3M438.6 460.6h8.4M438.6 474.3h8.4" stroke="#e83c2d" stroke-width="0.9" fill="none"/>
<g fill="#e83c2d"><circle cx="442.8" cy="445" r="1.3"/><circle cx="442.8" cy="450.2" r="1.3"/><circle cx="442.8" cy="473.4" r="1.3"/><circle cx="440" cy="484.5" r="1.3"/><circle cx="445.4" cy="484.5" r="1.3"/></g>
<path d="M419.2 429.7V424.5H442.8V440.3" stroke="#1a1a1a" stroke-width="1.1" fill="none"/>
<text x="431" y="421.17" font-size="7.75" text-anchor="middle" fill="#262626" stroke="#262626" stroke-width="0.18">P=0.2394</text>
<text transform="translate(376.6 461.5) rotate(-90)" x="0" y="3.76" font-size="10.5" text-anchor="middle">Ki67<tspan dy="-3.78" font-size="6.3">+</tspan><tspan dy="3.78"> AMs (%)</tspan></text>
<text x="459" y="409.5" font-size="12.4" font-weight="bold">m</text>
<rect x="508.2" y="470.5" width="14.4" height="32.8" fill="#8fa5ce" stroke="#3358a6" stroke-width="1"/>
<path d="M515.4 467V472.6M511.2 467h8.4M511.2 472.6h8.4" stroke="#3358a6" stroke-width="0.9" fill="none"/>
<g fill="#3358a6"><circle cx="515.3" cy="459.2" r="1.3"/><circle cx="510.4" cy="467.3" r="1.3"/><circle cx="520.4" cy="467.3" r="1.3"/><circle cx="515.3" cy="468" r="1.3"/><circle cx="515.3" cy="471.6" r="1.3"/><circle cx="520.4" cy="474.4" r="1.3"/><circle cx="515.3" cy="475.8" r="1.3"/><circle cx="515.3" cy="480.3" r="1.3"/></g>
<rect x="531.5" y="450.7" width="14.7" height="52.6" fill="#eb978b" stroke="#e83c2d" stroke-width="1"/>
<path d="M538.85 443.4V455.9M534.65 443.4h8.4M534.65 455.9h8.4" stroke="#e83c2d" stroke-width="0.9" fill="none"/>
<g fill="#e83c2d"><circle cx="538.9" cy="426.4" r="1.3"/><circle cx="538.9" cy="429.8" r="1.3"/><circle cx="533.7" cy="454.9" r="1.3"/><circle cx="544" cy="455.5" r="1.3"/><circle cx="538.9" cy="455.2" r="1.3"/><circle cx="538.9" cy="458.1" r="1.3"/><circle cx="538.9" cy="470.7" r="1.3"/></g>
<path d="M515.3 453.7V418.6H538.9V422.7" stroke="#1a1a1a" stroke-width="1.1" fill="none"/>
<text x="527.2" y="416.37" font-size="7.75" text-anchor="middle" fill="#262626" stroke="#262626" stroke-width="0.18">P=0.0096</text>
<text transform="translate(476.6 463) rotate(-90)" x="0" y="3.76" font-size="10.5" text-anchor="middle">Annexin V<tspan dy="-3.78" font-size="6.3">+</tspan><tspan dy="3.78"> AMs (%)</tspan></text>
<circle cx="561" cy="418.4" r="1.2" fill="#3358a6"/>
<text x="568.6" y="422.96" font-size="10.5" font-style="italic">Ei24<tspan dy="-3.2" font-size="6.3" font-style="normal">fl/fl</tspan></text>
<circle cx="561" cy="434.8" r="1.2" fill="#e83c2d"/>
<text x="568.6" y="439.36" font-size="10.5" font-style="italic">Lyz2<tspan dy="-3.2" font-size="6.3" font-style="normal">cre</tspan><tspan dy="3.2">Ei24</tspan><tspan dy="-3.2" font-size="6.3" font-style="normal">fl/fl</tspan></text>
<text x="180" y="533.6" font-size="12.4" font-weight="bold">o</text>
<rect x="240.5" y="624.1" width="15.2" height="24.3" fill="#8fa5ce" stroke="#3358a6" stroke-width="1"/>
<path d="M248.1 619.5V627.3M243.7 619.5h8.8M243.7 627.3h8.8" stroke="#3358a6" stroke-width="0.9" fill="none"/>
<g fill="#3358a6"><circle cx="247.8" cy="611.1" r="1.35"/><circle cx="245.3" cy="621.1" r="1.35"/><circle cx="250.3" cy="619.9" r="1.35"/><circle cx="250.3" cy="631.4" r="1.35"/><circle cx="245.3" cy="633.7" r="1.35"/></g>
<rect x="264.3" y="606.3" width="15.2" height="42.1" fill="#eb978b" stroke="#e83c2d" stroke-width="1"/>
<path d="M271.9 602.3V608.8M267.5 602.3h8.8M267.5 608.8h8.8" stroke="#e83c2d" stroke-width="0.9" fill="none"/>
<g fill="#e83c2d"><circle cx="272.2" cy="593.2" r="1.35"/><circle cx="272.2" cy="599.8" r="1.35"/><circle cx="269.7" cy="607" r="1.35"/><circle cx="274.7" cy="606.1" r="1.35"/><circle cx="272.2" cy="609.8" r="1.35"/><circle cx="272.2" cy="616.1" r="1.35"/></g>
<path d="M247.8 605.7V583.3H272.2V588.2" stroke="#1a1a1a" stroke-width="1.1" fill="none"/>
<text x="260.1" y="580.7" font-size="8.1" text-anchor="middle" fill="#262626" stroke="#262626" stroke-width="0.18">P=0.0066</text>
<text transform="translate(196.7 607) rotate(-90)" x="0" y="3.76" font-size="10.5" text-anchor="middle">MFI of Cleaved Caspase-3</text>
<circle cx="288.2" cy="585.9" r="1.3" fill="#3358a6"/>
<text x="296.6" y="590.46" font-size="10.5" font-style="italic">Ei24<tspan dy="-3.2" font-size="6.3" font-style="normal">fl/fl</tspan></text>
<circle cx="288.2" cy="598" r="1.3" fill="#e83c2d"/>
<text x="296.6" y="602.56" font-size="10.5" font-style="italic">Lyz2<tspan dy="-3.2" font-size="6.3" font-style="normal">cre</tspan><tspan dy="3.2">Ei24</tspan><tspan dy="-3.2" font-size="6.3" font-style="normal">fl/fl</tspan></text>
<text x="349.6" y="533.4" font-size="12.4" font-weight="bold">p</text>
<rect x="412.5" y="607.5" width="14.8" height="40.9" fill="#ec988a" stroke="#e84e2e" stroke-width="1"/>
<path d="M419.9 600.3V612.9M415.7 600.3h8.4M415.7 612.9h8.4" stroke="#e84e2e" stroke-width="0.9" fill="none"/>
<g fill="#e84e2e"><circle cx="419.8" cy="574" r="1.35"/><circle cx="419.8" cy="589.4" r="1.35"/><circle cx="415" cy="614" r="1.35"/><circle cx="419.9" cy="616" r="1.35"/><circle cx="425" cy="616" r="1.35"/><circle cx="415" cy="619.1" r="1.35"/><circle cx="425" cy="618.4" r="1.35"/></g>
<rect x="436.6" y="623.2" width="14.7" height="25.2" fill="#be90cb" stroke="#8c3aa6" stroke-width="1"/>
<path d="M443.95 618.3V627.1M439.75 618.3h8.4M439.75 627.1h8.4" stroke="#8c3aa6" stroke-width="0.9" fill="none"/>
<g fill="#8c3aa6"><circle cx="443.5" cy="604.1" r="1.35"/><circle cx="441.1" cy="621.3" r="1.35"/><circle cx="446.2" cy="623" r="1.35"/><circle cx="441.3" cy="625.6" r="1.35"/><circle cx="443.6" cy="627.9" r="1.35"/><circle cx="443.5" cy="634.3" r="1.35"/></g>
<path d="M419.8 569V564.3H443.8V598.8" stroke="#1a1a1a" stroke-width="1.1" fill="none"/>
<text x="431.5" y="560.24" font-size="8.5" text-anchor="middle" fill="#262626" stroke="#262626" stroke-width="0.18">P=0.0221</text>
<text transform="translate(364 607.6) rotate(-90)" x="0" y="4.08" font-size="11.4" text-anchor="middle">MFI of Cleaved Caspase-3</text>
<text x="459.6" y="533.4" font-size="12.4" font-weight="bold">q</text>
<rect x="508.6" y="606.1" width="15.3" height="42.3" fill="#ec988a" stroke="#e84e2e" stroke-width="1"/>
<path d="M516.25 601.8V609.4M511.75 601.8h9M511.75 609.4h9" stroke="#e84e2e" stroke-width="0.9" fill="none"/>
<g fill="#e84e2e"><circle cx="513.6" cy="598.2" r="1.35"/><circle cx="518.7" cy="596.9" r="1.35"/><circle cx="511.1" cy="602.6" r="1.35"/><circle cx="521.2" cy="602.6" r="1.35"/><circle cx="516.3" cy="600.6" r="1.35"/><circle cx="516.3" cy="627" r="1.35"/></g>
<rect x="532.7" y="583.8" width="15.1" height="64.6" fill="#be90cb" stroke="#8c3aa6" stroke-width="1"/>
<path d="M540.25 578.3V588.5M535.75 578.3h9M535.75 588.5h9" stroke="#8c3aa6" stroke-width="0.9" fill="none"/>
<g fill="#8c3aa6"><circle cx="537.4" cy="571.3" r="1.35"/><circle cx="542.4" cy="570.2" r="1.35"/><circle cx="542.4" cy="573.7" r="1.35"/><circle cx="537.4" cy="593.4" r="1.35"/><circle cx="542.8" cy="593.7" r="1.35"/><circle cx="540" cy="597.8" r="1.35"/></g>
<path d="M516.3 592.1V560.7H540.3V565.3" stroke="#1a1a1a" stroke-width="1.1" fill="none"/>
<text x="528.2" y="555.84" font-size="8.5" text-anchor="middle" fill="#262626" stroke="#262626" stroke-width="0.18">P=0.0023</text>
<text transform="translate(478 608) rotate(-90)" x="0" y="4.15" font-size="11.6" text-anchor="middle">Cell number (x10<tspan dy="-4.18" font-size="6.96">5</tspan><tspan dy="4.18">)</tspan></text>
<circle cx="561.6" cy="590.6" r="1.4" fill="#e84e2e"/>
<text x="569" y="594.16" font-size="10.5">Veh</text>
<circle cx="561.6" cy="603" r="1.4" fill="#8c3aa6"/>
<text x="569" y="606.56" font-size="10.5">Z-VAD-FMK</text>
<path d="M30.7 54.25 V130.6 H107" stroke="#1a1a1a" stroke-width="1.15" fill="none"/>
<path d="M27 54.8h3.7M27 80h3.7M27 105.3h3.7M27 130.6h3.7M42.3 130.6v3.7M59.9 130.6v3.7M77.5 130.6v3.7M95.1 130.6v3.7" stroke="#1a1a1a" stroke-width="1.15" fill="none"/>
<text x="25.4" y="58.56" font-size="10.5" text-anchor="end">3</text>
<text x="25.4" y="83.76" font-size="10.5" text-anchor="end">2</text>
<text x="25.4" y="109.06" font-size="10.5" text-anchor="end">1</text>
<text x="25.4" y="134.36" font-size="10.5" text-anchor="end">0</text>
<path d="M225.7 49.95 V130.6 H280.6" stroke="#1a1a1a" stroke-width="1.15" fill="none"/>
<path d="M222 50.5h3.7M222 77.2h3.7M222 103.8h3.7M222 130.6h3.7M241.2 130.6v3.7M263.8 130.6v3.7" stroke="#1a1a1a" stroke-width="1.15" fill="none"/>
<text x="221.2" y="54.26" font-size="10.5" text-anchor="end">1.5</text>
<text x="221.2" y="80.96" font-size="10.5" text-anchor="end">1.0</text>
<text x="221.2" y="107.56" font-size="10.5" text-anchor="end">0.5</text>
<text x="221.2" y="134.36" font-size="10.5" text-anchor="end">0.0</text>
<path d="M309.6 47.45 V130.6 H364" stroke="#1a1a1a" stroke-width="1.15" fill="none"/>
<path d="M305.9 48h3.7M305.9 75.6h3.7M305.9 103h3.7M305.9 130.6h3.7M324.4 130.6v3.7M347.6 130.6v3.7" stroke="#1a1a1a" stroke-width="1.15" fill="none"/>
<text x="305.1" y="51.76" font-size="10.5" text-anchor="end">15</text>
<text x="305.1" y="79.36" font-size="10.5" text-anchor="end">10</text>
<text x="305.1" y="106.76" font-size="10.5" text-anchor="end">5</text>
<text x="305.1" y="134.36" font-size="10.5" text-anchor="end">0</text>
<path d="M390.6 48.05 V130.6 H446.6" stroke="#1a1a1a" stroke-width="1.15" fill="none"/>
<path d="M386.9 48.6h3.7M386.9 69h3.7M386.9 89.4h3.7M386.9 109.8h3.7M386.9 130.6h3.7M406.4 130.6v3.7M430 130.6v3.7" stroke="#1a1a1a" stroke-width="1.15" fill="none"/>
<text x="386.1" y="52.36" font-size="10.5" text-anchor="end">4</text>
<text x="386.1" y="72.76" font-size="10.5" text-anchor="end">3</text>
<text x="386.1" y="93.16" font-size="10.5" text-anchor="end">2</text>
<text x="386.1" y="113.56" font-size="10.5" text-anchor="end">1</text>
<text x="386.1" y="134.36" font-size="10.5" text-anchor="end">0</text>
<path d="M485 47.95 V130.6 H539" stroke="#1a1a1a" stroke-width="1.15" fill="none"/>
<path d="M481.3 48.5h3.7M481.3 65h3.7M481.3 81.4h3.7M481.3 97.8h3.7M481.3 114h3.7M481.3 130.6h3.7M499.4 130.6v3.7M522.7 130.6v3.7" stroke="#1a1a1a" stroke-width="1.15" fill="none"/>
<text x="480.5" y="52.26" font-size="10.5" text-anchor="end">2.5</text>
<text x="480.5" y="68.76" font-size="10.5" text-anchor="end">2.0</text>
<text x="480.5" y="85.16" font-size="10.5" text-anchor="end">1.5</text>
<text x="480.5" y="101.56" font-size="10.5" text-anchor="end">1.0</text>
<text x="480.5" y="117.76" font-size="10.5" text-anchor="end">0.5</text>
<text x="480.5" y="134.36" font-size="10.5" text-anchor="end">0.0</text>
<path d="M572.4 47.95 V130.6 H627.4" stroke="#1a1a1a" stroke-width="1.15" fill="none"/>
<path d="M568.7 48.5h3.7M568.7 65h3.7M568.7 81.4h3.7M568.7 97.8h3.7M568.7 114h3.7M568.7 130.6h3.7M587.4 130.6v3.7M611 130.6v3.7" stroke="#1a1a1a" stroke-width="1.15" fill="none"/>
<text x="567.9" y="52.26" font-size="10.5" text-anchor="end">2.5</text>
<text x="567.9" y="68.76" font-size="10.5" text-anchor="end">2.0</text>
<text x="567.9" y="85.16" font-size="10.5" text-anchor="end">1.5</text>
<text x="567.9" y="101.56" font-size="10.5" text-anchor="end">1.0</text>
<text x="567.9" y="117.76" font-size="10.5" text-anchor="end">0.5</text>
<text x="567.9" y="134.36" font-size="10.5" text-anchor="end">0.0</text>
<path d="M30 178.05 V258.6 H83.8" stroke="#1a1a1a" stroke-width="1.15" fill="none"/>
<path d="M26.3 178.6h3.7M26.3 198.4h3.7M26.3 218.2h3.7M26.3 238h3.7M26.3 258.6h3.7M45.3 258.6v3.7M67.8 258.6v3.7" stroke="#1a1a1a" stroke-width="1.15" fill="none"/>
<text x="25.5" y="182.36" font-size="10.5" text-anchor="end">20</text>
<text x="25.5" y="202.16" font-size="10.5" text-anchor="end">15</text>
<text x="25.5" y="221.96" font-size="10.5" text-anchor="end">10</text>
<text x="25.5" y="241.76" font-size="10.5" text-anchor="end">5</text>
<text x="25.5" y="262.36" font-size="10.5" text-anchor="end">0</text>
<path d="M109 178.05 V258.6 H163.6" stroke="#1a1a1a" stroke-width="1.15" fill="none"/>
<path d="M105.3 178.6h3.7M105.3 198.4h3.7M105.3 218.2h3.7M105.3 238h3.7M105.3 258.6h3.7M124.8 258.6v3.7M147.6 258.6v3.7" stroke="#1a1a1a" stroke-width="1.15" fill="none"/>
<text x="104.5" y="182.36" font-size="10.5" text-anchor="end">8</text>
<text x="104.5" y="202.16" font-size="10.5" text-anchor="end">6</text>
<text x="104.5" y="221.96" font-size="10.5" text-anchor="end">4</text>
<text x="104.5" y="241.76" font-size="10.5" text-anchor="end">2</text>
<text x="104.5" y="262.36" font-size="10.5" text-anchor="end">0</text>
<path d="M195.4 177.45 V258.6 H248.4" stroke="#1a1a1a" stroke-width="1.15" fill="none"/>
<path d="M191.7 178h3.7M191.7 194h3.7M191.7 210h3.7M191.7 226h3.7M191.7 242h3.7M191.7 258.6h3.7M210.6 258.6v3.7M234 258.6v3.7" stroke="#1a1a1a" stroke-width="1.15" fill="none"/>
<text x="190.9" y="181.76" font-size="10.5" text-anchor="end">5</text>
<text x="190.9" y="197.76" font-size="10.5" text-anchor="end">4</text>
<text x="190.9" y="213.76" font-size="10.5" text-anchor="end">3</text>
<text x="190.9" y="229.76" font-size="10.5" text-anchor="end">2</text>
<text x="190.9" y="245.76" font-size="10.5" text-anchor="end">1</text>
<text x="190.9" y="262.36" font-size="10.5" text-anchor="end">0</text>
<path d="M275.9 176.85 V258.6 H331" stroke="#1a1a1a" stroke-width="1.15" fill="none"/>
<path d="M272.2 177.4h3.7M272.2 204.4h3.7M272.2 231.4h3.7M272.2 258.6h3.7M292.2 258.6v3.7M315 258.6v3.7" stroke="#1a1a1a" stroke-width="1.15" fill="none"/>
<text x="271.4" y="181.16" font-size="10.5" text-anchor="end">6</text>
<text x="271.4" y="208.16" font-size="10.5" text-anchor="end">4</text>
<text x="271.4" y="235.16" font-size="10.5" text-anchor="end">2</text>
<text x="271.4" y="262.36" font-size="10.5" text-anchor="end">0</text>
<path d="M30 303.05 V386 H85" stroke="#1a1a1a" stroke-width="1.15" fill="none"/>
<path d="M26.3 303.6h3.7M26.3 324h3.7M26.3 344.6h3.7M26.3 365h3.7M26.3 386h3.7M46.2 386v3.7M69.4 386v3.7" stroke="#1a1a1a" stroke-width="1.15" fill="none"/>
<text x="25.5" y="307.36" font-size="10.5" text-anchor="end">8</text>
<text x="25.5" y="327.76" font-size="10.5" text-anchor="end">6</text>
<text x="25.5" y="348.36" font-size="10.5" text-anchor="end">4</text>
<text x="25.5" y="368.76" font-size="10.5" text-anchor="end">2</text>
<text x="25.5" y="389.76" font-size="10.5" text-anchor="end">0</text>
<path d="M109 303.05 V386 H163.6" stroke="#1a1a1a" stroke-width="1.15" fill="none"/>
<path d="M105.3 303.6h3.7M105.3 324h3.7M105.3 344.6h3.7M105.3 365h3.7M105.3 386h3.7M124.5 386v3.7M148.3 386v3.7" stroke="#1a1a1a" stroke-width="1.15" fill="none"/>
<text x="104.5" y="307.36" font-size="10.5" text-anchor="end">4</text>
<text x="104.5" y="327.76" font-size="10.5" text-anchor="end">3</text>
<text x="104.5" y="348.36" font-size="10.5" text-anchor="end">2</text>
<text x="104.5" y="368.76" font-size="10.5" text-anchor="end">1</text>
<text x="104.5" y="389.76" font-size="10.5" text-anchor="end">0</text>
<path d="M195 303.05 V386 H250.4" stroke="#1a1a1a" stroke-width="1.15" fill="none"/>
<path d="M191.3 303.6h3.7M191.3 320h3.7M191.3 336.4h3.7M191.3 352.8h3.7M191.3 369h3.7M191.3 386h3.7M211.2 386v3.7M234.6 386v3.7" stroke="#1a1a1a" stroke-width="1.15" fill="none"/>
<text x="190.5" y="307.36" font-size="10.5" text-anchor="end">50</text>
<text x="190.5" y="323.76" font-size="10.5" text-anchor="end">40</text>
<text x="190.5" y="340.16" font-size="10.5" text-anchor="end">30</text>
<text x="190.5" y="356.56" font-size="10.5" text-anchor="end">20</text>
<text x="190.5" y="372.76" font-size="10.5" text-anchor="end">10</text>
<text x="190.5" y="389.76" font-size="10.5" text-anchor="end">0</text>
<path d="M277 302.45 V386 H331.4" stroke="#1a1a1a" stroke-width="1.15" fill="none"/>
<path d="M273.3 303h3.7M273.3 330.6h3.7M273.3 358.4h3.7M273.3 386h3.7M293.3 386v3.7M316.6 386v3.7" stroke="#1a1a1a" stroke-width="1.15" fill="none"/>
<text x="272.5" y="306.76" font-size="10.5" text-anchor="end">3</text>
<text x="272.5" y="334.36" font-size="10.5" text-anchor="end">2</text>
<text x="272.5" y="362.16" font-size="10.5" text-anchor="end">1</text>
<text x="272.5" y="389.76" font-size="10.5" text-anchor="end">0</text>
<path d="M30 421.05 V502.3 H151" stroke="#1a1a1a" stroke-width="1.15" fill="none"/>
<path d="M26.3 421.6h3.7M26.3 438h3.7M26.3 454h3.7M26.3 470h3.7M26.3 486h3.7M26.3 502.3h3.7M50.6 502.3v3.7M90.9 502.3v3.7M131 502.3v3.7" stroke="#1a1a1a" stroke-width="1.15" fill="none"/>
<text x="24.6" y="425.36" font-size="10.5" text-anchor="end">25</text>
<text x="24.6" y="441.76" font-size="10.5" text-anchor="end">20</text>
<text x="24.6" y="457.76" font-size="10.5" text-anchor="end">15</text>
<text x="24.6" y="473.76" font-size="10.5" text-anchor="end">10</text>
<text x="24.6" y="489.76" font-size="10.5" text-anchor="end">5</text>
<text x="24.6" y="506.06" font-size="10.5" text-anchor="end">0</text>
<path d="M222.7 421.05 V502.3 H343.2" stroke="#1a1a1a" stroke-width="1.15" fill="none"/>
<path d="M219 421.6h3.7M219 437.6h3.7M219 454h3.7M219 470h3.7M219 486h3.7M219 502.3h3.7M241 502.3v3.7M282.9 502.3v3.7M324.8 502.3v3.7" stroke="#1a1a1a" stroke-width="1.15" fill="none"/>
<text x="217.3" y="425.36" font-size="10.5" text-anchor="end">5</text>
<text x="217.3" y="441.36" font-size="10.5" text-anchor="end">4</text>
<text x="217.3" y="457.76" font-size="10.5" text-anchor="end">3</text>
<text x="217.3" y="473.76" font-size="10.5" text-anchor="end">2</text>
<text x="217.3" y="489.76" font-size="10.5" text-anchor="end">1</text>
<text x="217.3" y="506.06" font-size="10.5" text-anchor="end">0</text>
<path d="M404 420.05 V503.4 H458" stroke="#1a1a1a" stroke-width="1.15" fill="none"/>
<path d="M400.3 420.6h3.7M400.3 437.2h3.7M400.3 453.6h3.7M400.3 470h3.7M400.3 486.4h3.7M400.3 503h3.7M419.2 503.4v3.7M442.8 503.4v3.7" stroke="#1a1a1a" stroke-width="1.15" fill="none"/>
<text x="399.5" y="424.36" font-size="10.5" text-anchor="end">2.5</text>
<text x="399.5" y="440.96" font-size="10.5" text-anchor="end">2.0</text>
<text x="399.5" y="457.36" font-size="10.5" text-anchor="end">1.5</text>
<text x="399.5" y="473.76" font-size="10.5" text-anchor="end">1.0</text>
<text x="399.5" y="490.16" font-size="10.5" text-anchor="end">0.5</text>
<text x="399.5" y="506.76" font-size="10.5" text-anchor="end">0.0</text>
<path d="M500 421.05 V503.8 H554.4" stroke="#1a1a1a" stroke-width="1.15" fill="none"/>
<path d="M496.3 421.6h3.7M496.3 442.2h3.7M496.3 462.6h3.7M496.3 483h3.7M496.3 503.8h3.7M515.3 503.8v3.7M538.9 503.8v3.7" stroke="#1a1a1a" stroke-width="1.15" fill="none"/>
<text x="495.5" y="425.36" font-size="10.5" text-anchor="end">40</text>
<text x="495.5" y="445.96" font-size="10.5" text-anchor="end">30</text>
<text x="495.5" y="466.36" font-size="10.5" text-anchor="end">20</text>
<text x="495.5" y="486.76" font-size="10.5" text-anchor="end">10</text>
<text x="495.5" y="507.56" font-size="10.5" text-anchor="end">0</text>
<path d="M230.2 563.35 V648.9 H288.2" stroke="#1a1a1a" stroke-width="1.15" fill="none"/>
<path d="M226.5 563.9h3.7M226.5 592.4h3.7M226.5 620.8h3.7M226.5 648.9h3.7M247.8 648.9v3.7M272 648.9v3.7" stroke="#1a1a1a" stroke-width="1.15" fill="none"/>
<text x="225.7" y="567.66" font-size="10.5" text-anchor="end">1500</text>
<text x="225.7" y="596.16" font-size="10.5" text-anchor="end">1000</text>
<text x="225.7" y="624.56" font-size="10.5" text-anchor="end">500</text>
<text x="225.7" y="652.66" font-size="10.5" text-anchor="end">0</text>
<path d="M404.3 565.45 V648.9 H459.6" stroke="#1a1a1a" stroke-width="1.15" fill="none"/>
<path d="M400.7 566h3.6M400.7 582.5h3.6M400.7 599h3.6M400.7 616h3.6M400.7 632.4h3.6M400.7 648.9h3.6M419.8 648.9v3.6M443.8 648.9v3.6" stroke="#1a1a1a" stroke-width="1.15" fill="none"/>
<text x="397.7" y="570.15" font-size="11.6" text-anchor="end">2500</text>
<text x="397.7" y="586.65" font-size="11.6" text-anchor="end">2000</text>
<text x="397.7" y="603.15" font-size="11.6" text-anchor="end">1500</text>
<text x="397.7" y="620.15" font-size="11.6" text-anchor="end">1000</text>
<text x="397.7" y="636.55" font-size="11.6" text-anchor="end">500</text>
<text x="397.7" y="653.05" font-size="11.6" text-anchor="end">0</text>
<path d="M500.6 565.45 V648.9 H555" stroke="#1a1a1a" stroke-width="1.15" fill="none"/>
<path d="M496.6 566h4M496.6 593.6h4M496.6 621.4h4M496.6 648.9h4M516.2 648.9v4M540.2 648.9v4" stroke="#1a1a1a" stroke-width="1.15" fill="none"/>
<text x="494.4" y="570.22" font-size="11.8" text-anchor="end">6</text>
<text x="494.4" y="597.82" font-size="11.8" text-anchor="end">4</text>
<text x="494.4" y="625.62" font-size="11.8" text-anchor="end">2</text>
<text x="494.4" y="653.12" font-size="11.8" text-anchor="end">0</text>
</g>
<g id="flow">
<text x="339.6" y="151" font-size="12.4" font-weight="bold">g</text>
<text x="378" y="161.76" font-size="10.5" text-anchor="middle">PND2</text>
<g>
<path d="M393.78 203.81 C397.65 200.49 403.19 201.04 403.74 206.02 C404.07 210.44 406.5 212.65 408.72 215.97 C411.81 220.4 411.15 229.25 407.83 238.1 C405.4 244.73 400.97 249.71 397.65 250.49 C392.12 246.95 386.59 238.1 384.93 232.57 C385.49 227.04 386.59 218.19 388.25 212.65 C389.36 208.23 391.02 205.46 393.78 203.81 Z" fill="#3157a6" fill-opacity="0.6" stroke="#3157a6" stroke-width="0.5"/>
<path d="M394.29 206.71 C397.72 203.77 402.62 204.26 403.11 208.67 C403.4 212.59 405.55 214.55 407.51 217.49 C410.25 221.4 409.67 229.25 406.74 237.09 C404.58 242.96 400.65 247.38 397.72 248.06 C392.82 244.92 387.92 237.09 386.45 232.19 C386.94 227.29 387.92 219.45 389.39 214.55 C390.37 210.63 391.84 208.19 394.29 206.71 Z" fill="#3157a6" fill-opacity="0.07" stroke="#3157a6" stroke-width="0.35"/>
<path d="M394.79 209.62 C397.78 207.06 402.05 207.49 402.48 211.33 C402.73 214.75 404.61 216.45 406.32 219 C408.71 222.42 408.2 229.25 405.63 236.07 C403.75 241.19 400.34 245.03 397.78 245.63 C393.52 242.9 389.25 236.07 387.96 231.8 C388.4 227.54 389.25 220.72 390.53 216.45 C391.38 213.03 392.67 210.9 394.79 209.62 Z" fill="#3157a6" fill-opacity="0.07" stroke="#3157a6" stroke-width="0.35"/>
<path d="M395.3 212.53 C397.84 210.34 401.48 210.71 401.85 213.98 C402.06 216.89 403.66 218.34 405.11 220.52 C407.15 223.43 406.71 229.25 404.54 235.07 C402.93 239.42 400.02 242.7 397.84 243.21 C394.21 240.87 390.58 235.07 389.48 231.43 C389.85 227.8 390.58 221.98 391.67 218.34 C392.39 215.43 393.48 213.62 395.3 212.53 Z" fill="#3157a6" fill-opacity="0.07" stroke="#3157a6" stroke-width="0.35"/>
<path d="M395.81 215.43 C397.91 213.64 400.91 213.94 401.21 216.64 C401.39 219.04 402.71 220.24 403.92 222.05 C405.6 224.45 405.23 229.25 403.43 234.05 C402.11 237.65 399.71 240.35 397.91 240.77 C394.9 238.86 391.9 234.05 391.01 231.05 C391.31 228.04 391.9 223.24 392.8 220.24 C393.41 217.84 394.3 216.34 395.81 215.43 Z" fill="#3157a6" fill-opacity="0.07" stroke="#3157a6" stroke-width="0.35"/>
<path d="M396.32 218.34 C397.98 216.92 400.34 217.16 400.58 219.29 C400.72 221.18 401.76 222.13 402.71 223.56 C404.04 225.45 403.75 229.25 402.33 233.04 C401.29 235.88 399.39 238.02 397.98 238.35 C395.6 236.84 393.23 233.04 392.52 230.67 C392.75 228.3 393.23 224.5 393.94 222.13 C394.41 220.24 395.12 219.06 396.32 218.34 Z" fill="#3157a6" fill-opacity="0.07" stroke="#3157a6" stroke-width="0.35"/>
<path d="M396.81 221.25 C398.03 220.21 399.77 220.39 399.94 221.95 C400.06 223.34 400.82 224.04 401.52 225.08 C402.49 226.47 402.28 229.25 401.23 232.02 C400.46 234.12 399.08 235.67 398.03 235.92 C396.29 234.81 394.56 232.02 394.04 230.29 C394.21 228.55 394.56 225.77 395.08 224.04 C395.43 222.64 395.95 221.77 396.81 221.25 Z" fill="#3157a6" fill-opacity="0.07" stroke="#3157a6" stroke-width="0.35"/>
<path d="M393.78 203.81 C397.65 200.49 403.19 201.04 403.74 206.02 C404.07 211 402.74 214.87 401.42 218.19 C400.53 220.18 399.42 220.4 398.54 221.5 C398.32 224.82 398.54 229.25 397.65 232.35 C395.66 233.67 391.9 233.45 390.13 231.46 C389.03 227.04 388.81 221.5 389.69 215.97 C389.91 210.44 391.02 206.02 393.78 203.81 Z" fill="#3157a6" fill-opacity="0.82" stroke="#3157a6" stroke-width="0.4"/>
<path d="M395.22 206.57 C397.65 204.91 400.42 205.46 400.53 208.23 C400.53 211.55 399.2 214.65 398.1 217.08 C397.21 220.95 397.21 225.93 396.55 229.8 C395.66 230.35 393.78 230.35 393.01 229.25 C392.57 224.82 392.57 220.4 393.23 216.53 C393.67 212.65 393.45 208.78 395.22 206.57 Z" fill="#a9badf" fill-opacity="0.95" stroke="#3157a6" stroke-width="0.4"/>
<path d="M396.55 207.35 C397.65 207.35 398.1 208.78 397.65 210.44 C397.21 211.99 396.22 212.32 395.77 211.33 C395.33 209.89 395.55 207.57 396.55 207.35 Z" fill="#ffffff" fill-opacity="0.9" stroke="#3157a6" stroke-width="0.3"/>
<path d="M396 213.98 C396.55 213.76 396.77 214.87 396.55 217.08 C396.33 221.5 396.11 225.93 395.88 228.36 C395.44 228.69 395.11 228.36 395.11 227.59 C395.11 223.72 395.33 218.19 395.55 215.42 C395.66 214.42 395.77 214.09 396 213.98 Z" fill="#ffffff" fill-opacity="0.75" stroke="none" stroke-width="0.4"/>
<path d="M380.51 194.73 C384.38 194.4 387.7 197.17 387.48 201.59 C387.26 206.02 384.93 208.23 384.6 211.55 C384.38 218.19 384.93 223.72 384.6 227.59 C384.38 230.58 376.64 230.58 376.08 227.59 C375.53 222.61 376.42 217.08 376.19 211.55 C375.97 207.68 374.2 205.46 374.42 201.04 C374.65 196.62 377.19 194.96 380.51 194.73 Z" fill="#3157a6" fill-opacity="0.92" stroke="#3157a6" stroke-width="0.4"/>
<path d="M380.51 197.39 C382.72 197.39 384.82 198.83 384.38 202.15 C383.94 205.46 382.5 207.12 382.28 211 C382.06 217.08 382.5 222.61 382.28 226.15 C382.06 227.92 378.96 227.92 378.74 226.15 C378.3 222.61 378.96 217.08 378.74 211 C378.52 207.12 376.86 205.46 376.64 201.59 C376.42 198.5 378.3 197.39 380.51 197.39 Z" fill="#7f98cc" fill-opacity="0.95" stroke="#3157a6" stroke-width="0.4"/>
<path d="M380.51 199.16 C381.73 199.16 382.28 200.6 381.95 202.37 C381.62 204.36 380.95 205.8 380.84 208.45 L380.84 223.94 C380.84 224.6 380.18 224.6 380.18 223.94 L380.18 208.45 C380.07 205.8 379.4 204.36 379.07 202.37 C378.74 200.6 379.4 199.16 380.51 199.16 Z" fill="#ffffff" fill-opacity="0.8" stroke="#3157a6" stroke-width="0.3"/>
<path d="M384.6 227.59 C385.49 229.25 386.59 231.46 385.49 233.67 L384.93 232.57 C383.83 231.46 382.17 230.58 380.51 230.13 Z" fill="#3157a6" fill-opacity="0.4" stroke="none" stroke-width="0.4"/>
<path d="M379.4 243.41 C383.27 242.74 386.37 246.95 386.04 250.27 C385.71 253.81 381.06 255.13 377.74 254.91 C374.42 254.69 373.1 252.7 373.54 250.27 C374.2 246.95 376.08 244.07 379.4 243.41 Z" fill="#3157a6" fill-opacity="0.92" stroke="#3157a6" stroke-width="0.4"/>
<path d="M379.4 246.95 C381.95 246.5 383.94 248.94 383.5 250.93 C383.05 252.92 380.18 253.36 377.96 253.14 C375.97 252.7 375.31 251.37 375.75 250.27 C376.42 248.5 377.52 247.28 379.4 246.95 Z" fill="#8099cd" fill-opacity="0.95" stroke="#3157a6" stroke-width="0.4"/>
<path d="M377.74 250.93 C378.85 250.04 381.62 250.27 382.17 251.15 C381.73 252.26 378.63 252.48 377.74 251.81 Z" fill="#ffffff" fill-opacity="0.85" stroke="none" stroke-width="0.4"/>
<path d="M381.06 241.97 L386.59 241.64 L388.25 246.95 L386.04 248.61 Z" fill="#3157a6" fill-opacity="0.25" stroke="#3157a6" stroke-width="0.3"/>
</g>
<ellipse cx="399" cy="219.8" rx="23.15" ry="34" transform="rotate(-30 399 219.8)" stroke="#3157a6" stroke-width="0.9" fill="none"/>
<rect x="373.4" y="177.8" width="81.4" height="80.4" fill="none" stroke="#1a1a1a" stroke-width="1.25"/>
<path d="M382.7 258.7v1.6M416.2 258.7v1.6M434.6 258.7v1.6M452.3 258.7v1.6M372.9 185h-1.6M372.9 202.4h-1.6M372.9 221.4h-1.6M372.9 240.4h-1.6M372.9 249.8h-1.6M404.74 258.7v1M372.9 236.09h-1M411.66 258.7v1M372.9 228.45h-1M418.58 258.7v1M372.9 220.81h-1M425.5 258.7v1M372.9 213.18h-1M432.42 258.7v1M372.9 205.54h-1M439.33 258.7v1M372.9 197.9h-1M446.25 258.7v1M372.9 190.26h-1M453.17 258.7v1M372.9 182.62h-1" stroke="#333" stroke-width="0.45" fill="none"/>
<rect x="378.3" y="258.7" width="3.2" height="1.3" fill="#222"/>
<rect x="371.6" y="249.5" width="1.3" height="3" fill="#222"/>
<text x="371.6" y="187.76" font-size="10.5" text-anchor="end">10<tspan dy="-3.78" font-size="6.3">5</tspan></text>
<text x="371.6" y="205.16" font-size="10.5" text-anchor="end">10<tspan dy="-3.78" font-size="6.3">4</tspan></text>
<text x="371.6" y="224.16" font-size="10.5" text-anchor="end">10<tspan dy="-3.78" font-size="6.3">3</tspan></text>
<text x="371.6" y="243.16" font-size="10.5" text-anchor="end">10<tspan dy="-3.78" font-size="6.3">2</tspan></text>
<text x="371.6" y="253.56" font-size="10.5" text-anchor="end">0</text>
<text x="382.7" y="270.16" font-size="10.5" text-anchor="middle">0</text>
<text x="417.4" y="270.16" font-size="10.5" text-anchor="middle">10<tspan dy="-3.78" font-size="6.3">3</tspan></text>
<text x="435.8" y="270.16" font-size="10.5" text-anchor="middle">10<tspan dy="-3.78" font-size="6.3">4</tspan></text>
<text x="453.5" y="270.16" font-size="10.5" text-anchor="middle">10<tspan dy="-3.78" font-size="6.3">5</tspan></text>
<text x="379" y="188.36" font-size="10.5">77.4</text>
<path d="M427 222.6H499" stroke="#3157a6" stroke-width="0.9" fill="none"/>
<path d="M498.2 220L503.8 222.6L498.2 225.2Z" stroke="none" stroke-width="1" fill="#3157a6"/>
<g>
<path d="M498.06 241.17 C498.98 236.6 502.64 231.11 507.67 226.99 L509.96 230.19 C506.76 232.94 504.01 236.6 503.1 240.26 Z" fill="#3157a6" fill-opacity="0.1" stroke="#3157a6" stroke-width="0.4"/>
<path d="M500.35 241.17 C501.27 237.51 504.01 233.39 508.59 229.73" fill="#3157a6" fill-opacity="0" stroke="#3157a6" stroke-width="0.4"/>
<path d="M493.49 243 C497.15 240.26 506.3 238.88 514.08 240.71 C517.73 242.27 520.2 247.58 519.56 251.24 C518.65 254.89 513.62 257.46 509.04 258.19 L497.15 258.19 Z" fill="#3157a6" fill-opacity="0.38" stroke="#3157a6" stroke-width="0.4"/>
<path d="M509.04 242.09 C512.7 243 516.36 246.66 516.55 250.78 C516.36 253.98 512.7 255.99 509.5 256.72" fill="#3157a6" fill-opacity="0" stroke="#3157a6" stroke-width="0.4"/>
<path d="M510.87 241.17 C514.99 242.54 518.19 247.12 518.01 251.05 C517.46 254.44 513.62 256.54 509.96 257.46" fill="#3157a6" fill-opacity="0" stroke="#3157a6" stroke-width="0.4"/>
<ellipse cx="521.6" cy="225" rx="17.2" ry="9.3" transform="rotate(-42 521.6 225)" stroke="#3157a6" stroke-width="0.45" fill="#3157a6" fill-opacity="0.08"/>
<ellipse cx="521.6" cy="225" rx="15.82" ry="8.56" transform="rotate(-42 521.6 225)" stroke="#3157a6" stroke-width="0.45" fill="#3157a6" fill-opacity="0.08"/>
<ellipse cx="521.6" cy="225" rx="14.45" ry="7.81" transform="rotate(-42 521.6 225)" stroke="#3157a6" stroke-width="0.45" fill="#3157a6" fill-opacity="0.08"/>
<ellipse cx="521.6" cy="225" rx="13.07" ry="7.07" transform="rotate(-42 521.6 225)" stroke="#3157a6" stroke-width="0.45" fill="#3157a6" fill-opacity="0.08"/>
<ellipse cx="521.6" cy="225" rx="11.7" ry="6.32" transform="rotate(-42 521.6 225)" stroke="#3157a6" stroke-width="0.45" fill="#3157a6" fill-opacity="0.08"/>
<ellipse cx="521.6" cy="225" rx="10.32" ry="5.58" transform="rotate(-42 521.6 225)" stroke="#3157a6" stroke-width="0.45" fill="#3157a6" fill-opacity="0.08"/>
<ellipse cx="521.6" cy="225" rx="8.94" ry="4.84" transform="rotate(-42 521.6 225)" stroke="#3157a6" stroke-width="0.45" fill="#3157a6" fill-opacity="0.08"/>
<ellipse cx="521.6" cy="225" rx="7.57" ry="4.09" transform="rotate(-42 521.6 225)" stroke="#3157a6" stroke-width="0.45" fill="#3157a6" fill-opacity="0.08"/>
<ellipse cx="521.6" cy="225" rx="6.19" ry="3.35" transform="rotate(-42 521.6 225)" stroke="#3157a6" stroke-width="0.45" fill="#3157a6" fill-opacity="0.08"/>
<ellipse cx="521.6" cy="225" rx="4.82" ry="2.6" transform="rotate(-42 521.6 225)" stroke="#3157a6" stroke-width="0.45" fill="#3157a6" fill-opacity="0.08"/>
<ellipse cx="521.6" cy="225" rx="3.44" ry="1.86" transform="rotate(-42 521.6 225)" stroke="#3157a6" stroke-width="0.45" fill="#3157a6" fill-opacity="0.08"/>
<ellipse cx="523" cy="223.4" rx="2.2" ry="0.9" transform="rotate(-42 523 223.4)" stroke="#3157a6" stroke-width="0.3" fill="#fff" fill-opacity="0.9"/>
<ellipse cx="500.8" cy="251.6" rx="8.8" ry="6.9" transform="rotate(-8 500.8 251.6)" stroke="#3157a6" stroke-width="0.45" fill="#3157a6" fill-opacity="0.3"/>
<ellipse cx="500.8" cy="251.6" rx="7.83" ry="6.14" transform="rotate(-8 500.8 251.6)" stroke="#3157a6" stroke-width="0.45" fill="#3157a6" fill-opacity="0.3"/>
<ellipse cx="500.8" cy="251.6" rx="6.86" ry="5.38" transform="rotate(-8 500.8 251.6)" stroke="#3157a6" stroke-width="0.45" fill="#3157a6" fill-opacity="0.3"/>
<ellipse cx="500.8" cy="251.6" rx="5.9" ry="4.62" transform="rotate(-8 500.8 251.6)" stroke="#3157a6" stroke-width="0.45" fill="#3157a6" fill-opacity="0.3"/>
<ellipse cx="500.8" cy="251.6" rx="4.93" ry="3.86" transform="rotate(-8 500.8 251.6)" stroke="#3157a6" stroke-width="0.45" fill="#3157a6" fill-opacity="0.3"/>
<ellipse cx="500.8" cy="251.6" rx="3.96" ry="3.1" transform="rotate(-8 500.8 251.6)" stroke="#3157a6" stroke-width="0.45" fill="#3157a6" fill-opacity="0.3"/>
<ellipse cx="500.8" cy="251.6" rx="2.99" ry="2.35" transform="rotate(-8 500.8 251.6)" stroke="#3157a6" stroke-width="0.45" fill="#3157a6" fill-opacity="0.3"/>
<ellipse cx="500.8" cy="251.6" rx="2.02" ry="1.59" transform="rotate(-8 500.8 251.6)" stroke="#3157a6" stroke-width="0.45" fill="#3157a6" fill-opacity="0.3"/>
<ellipse cx="500.6" cy="252" rx="1.1" ry="1.1" transform="rotate(0 500.6 252)" stroke="#3157a6" stroke-width="0.3" fill="#fff" fill-opacity="0.9"/>
<ellipse cx="526.8" cy="251.6" rx="1.6" ry="1.2" transform="rotate(0 526.8 251.6)" stroke="#3157a6" stroke-width="0.45" fill="none"/>
</g>
<rect x="493.2" y="206.2" width="46.2" height="34.1" fill="none" stroke="#3157a6" stroke-width="0.9"/>
<line x1="506.5" y1="206.2" x2="506.5" y2="240.3" stroke="#3157a6" stroke-width="0.9"/>
<rect x="491.4" y="177.8" width="81" height="80.4" fill="none" stroke="#1a1a1a" stroke-width="1.25"/>
<path d="M500.6 258.7v1.6M534.1 258.7v1.6M552.5 258.7v1.6M570.2 258.7v1.6M490.9 185h-1.6M490.9 202.4h-1.6M490.9 221.4h-1.6M490.9 240.4h-1.6M490.9 249.8h-1.6M522.59 258.7v1M490.9 236.09h-1M529.47 258.7v1M490.9 228.45h-1M536.36 258.7v1M490.9 220.81h-1M543.24 258.7v1M490.9 213.18h-1M550.12 258.7v1M490.9 205.54h-1M557.01 258.7v1M490.9 197.9h-1M563.89 258.7v1M490.9 190.26h-1M570.78 258.7v1M490.9 182.62h-1" stroke="#333" stroke-width="0.45" fill="none"/>
<rect x="496.2" y="258.7" width="3.2" height="1.3" fill="#222"/>
<rect x="489.6" y="249.5" width="1.3" height="3" fill="#222"/>
<text x="489.6" y="187.76" font-size="10.5" text-anchor="end">10<tspan dy="-3.78" font-size="6.3">5</tspan></text>
<text x="489.6" y="205.16" font-size="10.5" text-anchor="end">10<tspan dy="-3.78" font-size="6.3">4</tspan></text>
<text x="489.6" y="224.16" font-size="10.5" text-anchor="end">10<tspan dy="-3.78" font-size="6.3">3</tspan></text>
<text x="489.6" y="243.16" font-size="10.5" text-anchor="end">10<tspan dy="-3.78" font-size="6.3">2</tspan></text>
<text x="489.6" y="253.56" font-size="10.5" text-anchor="end">0</text>
<text x="500.6" y="270.16" font-size="10.5" text-anchor="middle">0</text>
<text x="535.3" y="270.16" font-size="10.5" text-anchor="middle">10<tspan dy="-3.78" font-size="6.3">3</tspan></text>
<text x="553.7" y="270.16" font-size="10.5" text-anchor="middle">10<tspan dy="-3.78" font-size="6.3">4</tspan></text>
<text x="571.4" y="270.16" font-size="10.5" text-anchor="middle">10<tspan dy="-3.78" font-size="6.3">5</tspan></text>
<text x="494.4" y="190.16" font-size="10.5">pre-AM</text>
<text x="495.5" y="199.36" font-size="10.5">3.94</text>
<text x="543.7" y="217.06" font-size="10.5">AM</text>
<text x="542" y="226.16" font-size="10.5">33.8</text>
<path d="M347.5 188V295" stroke="#1a1a1a" stroke-width="0.9" fill="none"/>
<path d="M343.7 188.2L347.5 181L351.4 188.2Z" stroke="none" stroke-width="1" fill="#1a1a1a"/>
<text transform="translate(346.7 332.6) rotate(-90)" x="0" y="3.94" font-size="11" text-anchor="middle">CD11b-BV421</text>
<path d="M469.2 188V286.2" stroke="#1a1a1a" stroke-width="0.9" fill="none"/>
<path d="M465.4 188.2L469.2 181L473 188.2Z" stroke="none" stroke-width="1" fill="#1a1a1a"/>
<text transform="translate(468.9 327.2) rotate(-90)" x="0" y="3.83" font-size="10.7" text-anchor="middle">CD11c-APC/Cy7</text>
<g>
<path d="M375.53 310.25 C376.42 320.76 379.07 334.04 382.39 343.99 L384.93 340.67 C383.27 331.82 383.83 322.97 386.04 311.91 Z" fill="#e8392c" fill-opacity="0.26" stroke="#e8392c" stroke-width="0.4"/>
<path d="M379.4 317.44 C379.4 325.19 381.06 334.04 383.05 340.67" fill="#fff" fill-opacity="0" stroke="#fde9e6" stroke-width="1.1"/>
<path d="M398.76 303.95 C403.19 303.62 405.62 308.59 405.95 313.57 C408.16 317.44 410.71 320.76 410.38 325.19 C409.82 334.04 405.4 343.99 399.87 348.97 C396.55 351.73 392.12 352.29 389.91 349.52 C385.49 345.1 382.39 340.67 382.72 334.04 C383.05 327.4 385.49 319.65 388.25 314.12 C390.46 308.59 394.34 304.39 398.76 303.95 Z" fill="#e8392c" fill-opacity="0.42" stroke="#e8392c" stroke-width="0.5"/>
<path d="M398.51 306.76 C402.42 306.46 404.58 310.87 404.88 315.27 C406.84 318.7 409.09 321.65 408.79 325.56 C408.31 333.4 404.39 342.22 399.49 346.63 C396.55 349.08 392.63 349.57 390.67 347.12 C386.75 343.21 384 339.28 384.3 333.4 C384.59 327.52 386.75 320.66 389.2 315.77 C391.16 310.87 394.59 307.14 398.51 306.76 Z" fill="#e8392c" fill-opacity="0.07" stroke="#e8392c" stroke-width="0.35"/>
<path d="M398.25 309.56 C401.67 309.3 403.55 313.14 403.81 316.99 C405.51 319.98 407.47 322.53 407.21 325.95 C406.79 332.77 403.37 340.45 399.1 344.29 C396.55 346.42 393.13 346.86 391.43 344.72 C388.02 341.3 385.63 337.9 385.88 332.77 C386.14 327.65 388.02 321.68 390.14 317.41 C391.86 313.14 394.85 309.9 398.25 309.56 Z" fill="#e8392c" fill-opacity="0.07" stroke="#e8392c" stroke-width="0.35"/>
<path d="M398 312.37 C400.91 312.14 402.51 315.42 402.73 318.69 C404.18 321.24 405.85 323.42 405.63 326.33 C405.28 332.14 402.37 338.68 398.73 341.96 C396.55 343.77 393.64 344.13 392.19 342.32 C389.28 339.41 387.25 336.5 387.47 332.14 C387.68 327.77 389.28 322.69 391.1 319.06 C392.56 315.42 395.1 312.65 398 312.37 Z" fill="#e8392c" fill-opacity="0.07" stroke="#e8392c" stroke-width="0.35"/>
<path d="M397.75 315.17 C400.15 315 401.47 317.7 401.65 320.4 C402.85 322.5 404.24 324.3 404.06 326.7 C403.75 331.5 401.35 336.91 398.35 339.61 C396.55 341.12 394.15 341.41 392.94 339.91 C390.54 337.51 388.86 335.11 389.04 331.5 C389.23 327.91 390.54 323.7 392.05 320.69 C393.24 317.7 395.34 315.42 397.75 315.17 Z" fill="#e8392c" fill-opacity="0.07" stroke="#e8392c" stroke-width="0.35"/>
<path d="M397.5 317.98 C399.39 317.84 400.43 319.98 400.58 322.1 C401.53 323.76 402.62 325.19 402.48 327.08 C402.23 330.87 400.34 335.14 397.98 337.28 C396.55 338.46 394.66 338.69 393.71 337.51 C391.8 335.62 390.48 333.71 390.62 330.87 C390.76 328.03 391.8 324.71 393 322.34 C393.94 319.98 395.6 318.17 397.5 317.98 Z" fill="#e8392c" fill-opacity="0.07" stroke="#e8392c" stroke-width="0.35"/>
<path d="M397.25 320.78 C398.64 320.68 399.4 322.24 399.5 323.81 C400.2 325.03 401 326.07 400.9 327.46 C400.72 330.24 399.33 333.37 397.59 334.93 C396.55 335.81 395.15 335.98 394.46 335.11 C393.08 333.71 392.1 332.33 392.2 330.24 C392.31 328.16 393.08 325.73 393.94 323.98 C394.63 322.24 395.85 320.93 397.25 320.78 Z" fill="#e8392c" fill-opacity="0.07" stroke="#e8392c" stroke-width="0.35"/>
<path d="M397.65 306.38 C402.08 305.83 404.29 309.7 403.74 314.68 C403.19 320.76 403.19 328.5 402.08 334.04 C400.97 337.35 396.55 337.35 394.89 334.04 C392.68 328.5 388.81 324.08 389.36 318.55 C390.46 311.91 393.78 306.93 397.65 306.38 Z" fill="#e8392c" fill-opacity="0.38" stroke="#e8392c" stroke-width="0.4"/>
<path d="M393.78 312.46 C395.22 311.69 396.55 312.8 396.11 314.68 C395.66 316.56 394.12 317.22 393.23 316.12 C392.57 314.79 392.79 313.24 393.78 312.46 Z" fill="#fff" fill-opacity="0.9" stroke="#e8392c" stroke-width="0.3"/>
<path d="M396.55 329.06 C397.88 328.5 398.76 329.83 398.32 332.04 C397.88 334.26 396.55 334.92 395.88 333.59 C395.22 331.82 395.44 329.83 396.55 329.06 Z" fill="#fff" fill-opacity="0.9" stroke="#e8392c" stroke-width="0.3"/>
<path d="M393.23 318.55 C392.79 321.87 393.23 325.19 394.56 327.95" fill="#fff" fill-opacity="0" stroke="#fde0dc" stroke-width="0.9"/>
<path d="M380.59 299.85 C384.39 299.65 386.96 302.98 386.58 306.79 C386.01 310.6 382.96 312.5 379.92 312.22 C376.31 311.83 374.59 308.69 375.17 305.17 C375.73 302.03 377.73 300.04 380.59 299.85 Z" fill="#e8392c" fill-opacity="0.78" stroke="#e8392c" stroke-width="0.4"/>
<path d="M380.62 303.99 C381.95 303.99 382.65 305.14 382.39 306.29 C382.04 307.62 380.88 307.88 380 307.62 C378.94 307.18 378.58 305.94 379.03 305.05 C379.47 304.26 380 303.99 380.62 303.99 Z" fill="#fff" fill-opacity="0.95" stroke="#e8392c" stroke-width="0.3"/>
<path d="M379.41 352.79 C382.7 352.29 384.69 355.27 384.29 358.06 C383.89 361.05 380.71 362.24 377.92 361.85 C375.13 361.25 373.94 359.46 374.54 357.27 C375.13 354.78 376.92 353.08 379.41 352.79 Z" fill="#e8392c" fill-opacity="0.85" stroke="#e8392c" stroke-width="0.4"/>
<path d="M377.52 358.15 C378.41 357.27 381.06 357.27 381.73 358.15 C381.28 359.26 378.41 359.48 377.52 358.81 Z" fill="#fff" fill-opacity="0.95" stroke="none" stroke-width="0.4"/>
<path d="M377.74 352.29 L381.06 349.52 L383.27 351.18 L381.62 352.84 Z" fill="#e8392c" fill-opacity="0.25" stroke="#e8392c" stroke-width="0.3"/>
</g>
<ellipse cx="399" cy="327.2" rx="23.15" ry="34" transform="rotate(-30 399 327.2)" stroke="#e8392c" stroke-width="0.9" fill="none"/>
<rect x="373.4" y="284.6" width="81.8" height="81.2" fill="none" stroke="#1a1a1a" stroke-width="1.25"/>
<path d="M383 366.3v1.6M416.6 366.3v1.6M435 366.3v1.6M453 366.3v1.6M372.9 292h-1.6M372.9 310h-1.6M372.9 329h-1.6M372.9 348h-1.6M372.9 357.2h-1.6M404.89 366.3v1M372.9 343.47h-1M411.85 366.3v1M372.9 335.76h-1M418.8 366.3v1M372.9 328.04h-1M425.75 366.3v1M372.9 320.33h-1M432.7 366.3v1M372.9 312.61h-1M439.66 366.3v1M372.9 304.9h-1M446.61 366.3v1M372.9 297.19h-1M453.56 366.3v1M372.9 289.47h-1" stroke="#333" stroke-width="0.45" fill="none"/>
<rect x="378.6" y="366.3" width="3.2" height="1.3" fill="#222"/>
<rect x="371.6" y="356.9" width="1.3" height="3" fill="#222"/>
<text x="371.6" y="294.76" font-size="10.5" text-anchor="end">10<tspan dy="-3.78" font-size="6.3">5</tspan></text>
<text x="371.6" y="312.76" font-size="10.5" text-anchor="end">10<tspan dy="-3.78" font-size="6.3">4</tspan></text>
<text x="371.6" y="331.76" font-size="10.5" text-anchor="end">10<tspan dy="-3.78" font-size="6.3">3</tspan></text>
<text x="371.6" y="350.76" font-size="10.5" text-anchor="end">10<tspan dy="-3.78" font-size="6.3">2</tspan></text>
<text x="371.6" y="360.96" font-size="10.5" text-anchor="end">0</text>
<text x="383" y="377.76" font-size="10.5" text-anchor="middle">0</text>
<text x="417.8" y="377.76" font-size="10.5" text-anchor="middle">10<tspan dy="-3.78" font-size="6.3">3</tspan></text>
<text x="436.2" y="377.76" font-size="10.5" text-anchor="middle">10<tspan dy="-3.78" font-size="6.3">4</tspan></text>
<text x="454.2" y="377.76" font-size="10.5" text-anchor="middle">10<tspan dy="-3.78" font-size="6.3">5</tspan></text>
<text x="379" y="295.16" font-size="10.5">91.7</text>
<path d="M426 338.6H498.6" stroke="#e8392c" stroke-width="0.9" fill="none"/>
<path d="M497.8 336L503.4 338.6L497.8 341.2Z" stroke="none" stroke-width="1" fill="#e8392c"/>
<text x="373.3" y="386.83" font-size="10.7">F4/80-APC</text>
<path d="M431 383.3H450" stroke="#1a1a1a" stroke-width="0.9" fill="none"/>
<path d="M449.3 379.2L456.1 383.3L449.3 387.4Z" stroke="none" stroke-width="1" fill="#1a1a1a"/>
<g>
<path d="M498.8 348.17 C499.44 343.6 502.64 338.11 507.21 333.99 L509.96 337.19 C506.76 339.94 504.47 343.6 503.74 347.26 Z" fill="#e8392c" fill-opacity="0.18" stroke="#e8392c" stroke-width="0.4"/>
<path d="M500.81 348.17 C501.72 344.51 504.01 340.39 508.59 336.73" fill="#e8392c" fill-opacity="0" stroke="#e8392c" stroke-width="0.4"/>
<path d="M502.18 348.17 C503.1 344.97 505.2 341.31 509.5 338.11" fill="#e8392c" fill-opacity="0" stroke="#e8392c" stroke-width="0.4"/>
<path d="M494.4 352.75 C498.06 349.09 506.3 347.26 514.08 348.63 C518.19 350 520.02 354.58 519.29 358.42 C518.38 362.35 513.62 364.64 509.04 365.55 L497.15 365.55 Z" fill="#e8392c" fill-opacity="0.4" stroke="#e8392c" stroke-width="0.4"/>
<path d="M511.97 350 C514.53 351.83 515.45 356.41 514.08 361.89" fill="#e8392c" fill-opacity="0" stroke="#e8392c" stroke-width="0.4"/>
<path d="M513.8 349.54 C516.55 351.83 517.28 356.41 515.63 361.71" fill="#e8392c" fill-opacity="0" stroke="#e8392c" stroke-width="0.4"/>
<path d="M515.63 349.27 C518.38 351.83 519.11 356.41 517.28 360.98" fill="#e8392c" fill-opacity="0" stroke="#e8392c" stroke-width="0.4"/>
<ellipse cx="519.6" cy="333.4" rx="16.4" ry="9" transform="rotate(-47 519.6 333.4)" stroke="#e8392c" stroke-width="0.45" fill="#e8392c" fill-opacity="0.08"/>
<ellipse cx="519.6" cy="333.4" rx="15.09" ry="8.28" transform="rotate(-47 519.6 333.4)" stroke="#e8392c" stroke-width="0.45" fill="#e8392c" fill-opacity="0.08"/>
<ellipse cx="519.6" cy="333.4" rx="13.78" ry="7.56" transform="rotate(-47 519.6 333.4)" stroke="#e8392c" stroke-width="0.45" fill="#e8392c" fill-opacity="0.08"/>
<ellipse cx="519.6" cy="333.4" rx="12.46" ry="6.84" transform="rotate(-47 519.6 333.4)" stroke="#e8392c" stroke-width="0.45" fill="#e8392c" fill-opacity="0.08"/>
<ellipse cx="519.6" cy="333.4" rx="11.15" ry="6.12" transform="rotate(-47 519.6 333.4)" stroke="#e8392c" stroke-width="0.45" fill="#e8392c" fill-opacity="0.08"/>
<ellipse cx="519.6" cy="333.4" rx="9.84" ry="5.4" transform="rotate(-47 519.6 333.4)" stroke="#e8392c" stroke-width="0.45" fill="#e8392c" fill-opacity="0.08"/>
<ellipse cx="519.6" cy="333.4" rx="8.53" ry="4.68" transform="rotate(-47 519.6 333.4)" stroke="#e8392c" stroke-width="0.45" fill="#e8392c" fill-opacity="0.08"/>
<ellipse cx="519.6" cy="333.4" rx="7.22" ry="3.96" transform="rotate(-47 519.6 333.4)" stroke="#e8392c" stroke-width="0.45" fill="#e8392c" fill-opacity="0.08"/>
<ellipse cx="519.6" cy="333.4" rx="5.9" ry="3.24" transform="rotate(-47 519.6 333.4)" stroke="#e8392c" stroke-width="0.45" fill="#e8392c" fill-opacity="0.08"/>
<ellipse cx="519.6" cy="333.4" rx="4.59" ry="2.52" transform="rotate(-47 519.6 333.4)" stroke="#e8392c" stroke-width="0.45" fill="#e8392c" fill-opacity="0.08"/>
<ellipse cx="519.6" cy="333.4" rx="3.28" ry="1.8" transform="rotate(-47 519.6 333.4)" stroke="#e8392c" stroke-width="0.45" fill="#e8392c" fill-opacity="0.08"/>
<ellipse cx="520.4" cy="332.4" rx="2.6" ry="1" transform="rotate(-50 520.4 332.4)" stroke="#e8392c" stroke-width="0.3" fill="#fff" fill-opacity="0.95"/>
<ellipse cx="500.8" cy="360.4" rx="8.3" ry="6" transform="rotate(-8 500.8 360.4)" stroke="#e8392c" stroke-width="0.45" fill="#e8392c" fill-opacity="0.28"/>
<ellipse cx="500.8" cy="360.4" rx="7.39" ry="5.34" transform="rotate(-8 500.8 360.4)" stroke="#e8392c" stroke-width="0.45" fill="#e8392c" fill-opacity="0.28"/>
<ellipse cx="500.8" cy="360.4" rx="6.47" ry="4.68" transform="rotate(-8 500.8 360.4)" stroke="#e8392c" stroke-width="0.45" fill="#e8392c" fill-opacity="0.28"/>
<ellipse cx="500.8" cy="360.4" rx="5.56" ry="4.02" transform="rotate(-8 500.8 360.4)" stroke="#e8392c" stroke-width="0.45" fill="#e8392c" fill-opacity="0.28"/>
<ellipse cx="500.8" cy="360.4" rx="4.65" ry="3.36" transform="rotate(-8 500.8 360.4)" stroke="#e8392c" stroke-width="0.45" fill="#e8392c" fill-opacity="0.28"/>
<ellipse cx="500.8" cy="360.4" rx="3.73" ry="2.7" transform="rotate(-8 500.8 360.4)" stroke="#e8392c" stroke-width="0.45" fill="#e8392c" fill-opacity="0.28"/>
<ellipse cx="500.8" cy="360.4" rx="2.82" ry="2.04" transform="rotate(-8 500.8 360.4)" stroke="#e8392c" stroke-width="0.45" fill="#e8392c" fill-opacity="0.28"/>
<ellipse cx="500.8" cy="360.4" rx="1.91" ry="1.38" transform="rotate(-8 500.8 360.4)" stroke="#e8392c" stroke-width="0.45" fill="#e8392c" fill-opacity="0.28"/>
<ellipse cx="500.4" cy="360.8" rx="1.4" ry="1" transform="rotate(0 500.4 360.8)" stroke="#e8392c" stroke-width="0.3" fill="#fff" fill-opacity="0.95"/>
</g>
<rect x="493" y="313.2" width="47.2" height="34.2" fill="none" stroke="#e8392c" stroke-width="0.9"/>
<line x1="507.2" y1="313.2" x2="507.2" y2="347.4" stroke="#e8392c" stroke-width="0.9"/>
<rect x="491.4" y="284.6" width="81.8" height="81.2" fill="none" stroke="#1a1a1a" stroke-width="1.25"/>
<path d="M500.6 366.3v1.6M534.2 366.3v1.6M553.2 366.3v1.6M571.2 366.3v1.6M490.9 292h-1.6M490.9 310h-1.6M490.9 329h-1.6M490.9 348h-1.6M490.9 357.2h-1.6M522.89 366.3v1M490.9 343.47h-1M529.85 366.3v1M490.9 335.76h-1M536.8 366.3v1M490.9 328.04h-1M543.75 366.3v1M490.9 320.33h-1M550.71 366.3v1M490.9 312.61h-1M557.66 366.3v1M490.9 304.9h-1M564.61 366.3v1M490.9 297.19h-1M571.56 366.3v1M490.9 289.47h-1" stroke="#333" stroke-width="0.45" fill="none"/>
<rect x="496.2" y="366.3" width="3.2" height="1.3" fill="#222"/>
<rect x="489.6" y="356.9" width="1.3" height="3" fill="#222"/>
<text x="489.6" y="294.76" font-size="10.5" text-anchor="end">10<tspan dy="-3.78" font-size="6.3">5</tspan></text>
<text x="489.6" y="312.76" font-size="10.5" text-anchor="end">10<tspan dy="-3.78" font-size="6.3">4</tspan></text>
<text x="489.6" y="331.76" font-size="10.5" text-anchor="end">10<tspan dy="-3.78" font-size="6.3">3</tspan></text>
<text x="489.6" y="350.76" font-size="10.5" text-anchor="end">10<tspan dy="-3.78" font-size="6.3">2</tspan></text>
<text x="489.6" y="360.96" font-size="10.5" text-anchor="end">0</text>
<text x="500.6" y="377.76" font-size="10.5" text-anchor="middle">0</text>
<text x="535.4" y="377.76" font-size="10.5" text-anchor="middle">10<tspan dy="-3.78" font-size="6.3">3</tspan></text>
<text x="554.4" y="377.76" font-size="10.5" text-anchor="middle">10<tspan dy="-3.78" font-size="6.3">4</tspan></text>
<text x="572.4" y="377.76" font-size="10.5" text-anchor="middle">10<tspan dy="-3.78" font-size="6.3">5</tspan></text>
<text x="493.3" y="297.06" font-size="10.5">pre-AM</text>
<text x="495.5" y="306.06" font-size="10.5">5.43</text>
<text x="543" y="324.56" font-size="10.5">AM</text>
<text x="542" y="333.36" font-size="10.5">41.7</text>
<text x="490.5" y="386.83" font-size="10.7">SiglecF-PE</text>
<path d="M545 383.5H568" stroke="#1a1a1a" stroke-width="0.9" fill="none"/>
<path d="M567.3 379.4L574.1 383.5L567.3 387.6Z" stroke="none" stroke-width="1" fill="#1a1a1a"/>
<circle cx="589.6" cy="260.4" r="1.3" fill="#3358a6"/>
<text x="597" y="264.96" font-size="10.5" font-style="italic">Ei24<tspan dy="-3.2" font-size="6.3" font-style="normal">fl/fl</tspan></text>
<circle cx="589.4" cy="277.8" r="1.3" fill="#e83c2d"/>
<text x="596" y="282.36" font-size="10.5" font-style="italic">Lyz2<tspan dy="-3.2" font-size="6.3" font-style="normal">cre</tspan><tspan dy="3.2">Ei24</tspan><tspan dy="-3.2" font-size="6.3" font-style="normal">fl/fl</tspan></text>
</g>
<g id="hist">
<text x="6" y="533.4" font-size="12.4" font-weight="bold">n</text>
<path d="M52.79 646.68C52.92 645.91 53.34 644.82 53.57 641.87C53.8 638.92 54.01 633.95 54.22 628.23C54.43 622.52 54.66 612.81 54.87 606.16C55.08 599.51 55.27 591.5 55.52 586.68C55.77 581.85 56.12 577.94 56.43 576.03C56.74 574.11 57.16 574.52 57.47 574.73C57.78 574.94 58.09 575.21 58.38 577.32C58.67 579.44 58.97 583.57 59.29 587.97C59.6 592.38 59.95 599.45 60.32 604.86C60.7 610.26 61.17 616.96 61.62 621.74C62.08 626.52 62.68 631.44 63.18 634.73C63.68 638.01 64.2 640.39 64.74 642.26C65.28 644.13 66.27 645.75 66.56 646.42Z" stroke="#858585" stroke-width="0.9" fill="#969696" fill-opacity="0.97"/>
<path d="M54.61 646.68C54.82 645.91 55.49 644.09 55.91 641.87C56.32 639.65 56.79 635.69 57.21 632.78C57.62 629.87 58.09 626.81 58.51 623.69C58.92 620.57 59.39 616.69 59.81 613.3C60.22 609.91 60.69 606.11 61.1 602.52C61.52 598.92 61.99 594.16 62.4 590.83C62.82 587.51 63.29 584.34 63.7 581.74C64.12 579.14 64.65 576.26 65 574.6C65.35 572.94 65.64 572.16 65.91 571.35C66.18 570.54 66.46 569.51 66.69 569.53C66.92 569.55 67.09 571.4 67.34 571.48C67.59 571.56 67.98 569.99 68.25 570.05C68.52 570.11 68.78 571.7 69.03 571.87C69.28 572.04 69.56 570.68 69.81 571.09C70.05 571.51 70.29 573.64 70.58 574.47C70.88 575.3 71.33 575.16 71.62 576.29C71.91 577.41 72.11 579.4 72.4 581.48C72.69 583.56 73.07 586.57 73.44 589.27C73.82 591.97 74.32 595.45 74.74 598.36C75.16 601.27 75.58 604.55 76.04 607.45C76.5 610.36 77.08 613.64 77.6 616.55C78.12 619.45 78.75 622.94 79.29 625.64C79.83 628.34 80.41 631.23 80.97 633.43C81.54 635.63 82.17 637.82 82.79 639.4C83.42 640.98 84.06 642.34 84.87 643.3C85.68 644.25 86.71 644.9 87.86 645.38C89 645.85 90.14 646.18 92.01 646.29C93.88 646.39 97.47 645.98 99.55 646.03C101.62 646.07 102.92 646.44 105 646.55C107.08 646.65 111.33 646.65 112.53 646.68Z" stroke="#d0242e" stroke-width="0.95" fill="#e58592" fill-opacity="0.72"/>
<path d="M53.7 646.68C53.83 645.91 54.23 644.82 54.48 641.87C54.73 638.92 55.01 632.91 55.26 628.23C55.51 623.56 55.79 617.32 56.04 612.65C56.29 607.97 56.57 603.69 56.82 599.01C57.07 594.34 57.35 587.48 57.6 583.43C57.85 579.38 58.11 575.83 58.38 573.69C58.65 571.55 58.99 570.55 59.29 570.05C59.58 569.55 59.92 569.78 60.19 570.57C60.46 571.36 60.75 572.83 60.97 574.99C61.2 577.15 61.42 580.96 61.62 584.08C61.83 587.19 62.02 591.14 62.27 594.47C62.52 597.79 62.83 601.32 63.18 604.86C63.54 608.39 64.02 613.01 64.48 616.55C64.94 620.08 65.46 624.03 66.04 626.94C66.62 629.84 67.43 632.55 68.12 634.73C68.8 636.91 69.56 639.08 70.32 640.57C71.09 642.07 71.99 643.21 72.92 644.08C73.86 644.95 74.98 645.61 76.17 646.03C77.35 646.44 79.66 646.57 80.32 646.68Z" stroke="#2d50a8" stroke-width="0.95" fill="#7d96cb" fill-opacity="0.55"/>
<path d="M54.61 646.68C54.82 645.91 55.49 644.09 55.91 641.87C56.32 639.65 56.79 635.69 57.21 632.78C57.62 629.87 58.09 626.81 58.51 623.69C58.92 620.57 59.39 616.69 59.81 613.3C60.22 609.91 60.69 606.11 61.1 602.52C61.52 598.92 61.99 594.16 62.4 590.83C62.82 587.51 63.29 584.34 63.7 581.74C64.12 579.14 64.65 576.26 65 574.6C65.35 572.94 65.64 572.16 65.91 571.35C66.18 570.54 66.46 569.51 66.69 569.53C66.92 569.55 67.09 571.4 67.34 571.48C67.59 571.56 67.98 569.99 68.25 570.05C68.52 570.11 68.78 571.7 69.03 571.87C69.28 572.04 69.56 570.68 69.81 571.09C70.05 571.51 70.29 573.64 70.58 574.47C70.88 575.3 71.33 575.16 71.62 576.29C71.91 577.41 72.11 579.4 72.4 581.48C72.69 583.56 73.07 586.57 73.44 589.27C73.82 591.97 74.32 595.45 74.74 598.36C75.16 601.27 75.58 604.55 76.04 607.45C76.5 610.36 77.08 613.64 77.6 616.55C78.12 619.45 78.75 622.94 79.29 625.64C79.83 628.34 80.41 631.23 80.97 633.43C81.54 635.63 82.17 637.82 82.79 639.4C83.42 640.98 84.06 642.34 84.87 643.3C85.68 644.25 86.71 644.9 87.86 645.38C89 645.85 90.14 646.18 92.01 646.29C93.88 646.39 97.47 645.98 99.55 646.03C101.62 646.07 102.92 646.44 105 646.55C107.08 646.65 111.33 646.65 112.53 646.68" stroke="#d0242e" stroke-width="0.5" fill="none" stroke-opacity="0.6"/>
<rect x="30.6" y="563.8" width="82.8" height="82.4" fill="none" stroke="#1a1a1a" stroke-width="1.2"/>
<path d="M30.6 645.2h-1.6M30.6 643.65h-0.9M30.6 642.1h-0.9M30.6 640.54h-0.9M30.6 638.99h-0.9M30.6 637.44h-0.9M30.6 635.89h-0.9M30.6 634.34h-0.9M30.6 632.78h-0.9M30.6 631.23h-0.9M30.6 629.68h-1.6M30.6 628.13h-0.9M30.6 626.58h-0.9M30.6 625.02h-0.9M30.6 623.47h-0.9M30.6 621.92h-0.9M30.6 620.37h-0.9M30.6 618.82h-0.9M30.6 617.26h-0.9M30.6 615.71h-0.9M30.6 614.16h-1.6M30.6 612.61h-0.9M30.6 611.06h-0.9M30.6 609.5h-0.9M30.6 607.95h-0.9M30.6 606.4h-0.9M30.6 604.85h-0.9M30.6 603.3h-0.9M30.6 601.74h-0.9M30.6 600.19h-0.9M30.6 598.64h-1.6M30.6 597.09h-0.9M30.6 595.54h-0.9M30.6 593.98h-0.9M30.6 592.43h-0.9M30.6 590.88h-0.9M30.6 589.33h-0.9M30.6 587.78h-0.9M30.6 586.22h-0.9M30.6 584.67h-0.9M30.6 583.12h-1.6M30.6 581.57h-0.9M30.6 580.02h-0.9M30.6 578.46h-0.9M30.6 576.91h-0.9M30.6 575.36h-0.9M30.6 573.81h-0.9M30.6 572.26h-0.9M30.6 570.7h-0.9M30.6 569.15h-0.9M30.6 567.6h-1.6" stroke="#1a1a1a" stroke-width="0.5" fill="none"/>
<path d="M36 646.2v1.3M41 646.2v1.3M44.5 646.2v1.3M47 646.2v1.3M49 646.2v1.3M50.6 646.2v1.3M52 646.2v1.3M53.2 646.2v1.3M54.2 646.2v1.3M55 646.2v1.3M56 646.2v1.3M57 646.2v1.3M57.8 646.2v1.3M58.8 646.2v1.3M60 646.2v1.3M61.4 646.2v1.3M63 646.2v1.3M65 646.2v1.3M67.6 646.2v1.3M71 646.2v1.3M76 646.2v1.3M84 646.2v1.3M89 646.2v1.3M92.4 646.2v1.3M95 646.2v1.3M97 646.2v1.3M98.8 646.2v1.3M100.2 646.2v1.3M101.6 646.2v1.3M102.8 646.2v1.3M104 646.2v1.3M111 646.2v1.3" stroke="#1a1a1a" stroke-width="0.5" fill="none"/>
<text x="28" y="569.16" font-size="10.5" text-anchor="end">100</text>
<text x="28" y="584.56" font-size="10.5" text-anchor="end">80</text>
<text x="28" y="600.16" font-size="10.5" text-anchor="end">60</text>
<text x="28" y="615.96" font-size="10.5" text-anchor="end">40</text>
<text x="28" y="631.36" font-size="10.5" text-anchor="end">20</text>
<text x="28" y="646.36" font-size="10.5" text-anchor="end">0</text>
<text x="40.8" y="657.96" font-size="10.5" text-anchor="middle">-10<tspan dy="-3.78" font-size="6.3">3</tspan></text>
<text x="56" y="657.96" font-size="10.5" text-anchor="middle">0</text>
<text x="76.2" y="657.96" font-size="10.5" text-anchor="middle">10<tspan dy="-3.78" font-size="6.3">3</tspan></text>
<text x="103.6" y="657.96" font-size="10.5" text-anchor="middle">10<tspan dy="-3.78" font-size="6.3">4</tspan></text>
<text x="71.8" y="675.33" font-size="10.7" text-anchor="middle">Cleaved Caspase-3-PE</text>
<text transform="translate(5.4 604.8) rotate(-90)" x="0" y="3.87" font-size="10.8" text-anchor="middle">Normalized To Mode</text>
<rect x="118.2" y="574.6" width="6.4" height="6.4" fill="#8c8c8c"/>
<rect x="118.2" y="587.4" width="6.4" height="6.4" fill="#8ea8d4"/>
<rect x="118.2" y="600.3" width="6.4" height="6.4" fill="#ef948b"/>
<text x="127.8" y="581.76" font-size="10.5">iso</text>
<text x="127.8" y="595.06" font-size="10.5" font-style="italic">Ei24<tspan dy="-3.2" font-size="6.3" font-style="normal">fl/fl</tspan></text>
<text x="127.8" y="607.96" font-size="10.5" font-style="italic">Lyz2<tspan dy="-3.2" font-size="6.3" font-style="normal">cre</tspan><tspan dy="3.2">Ei24</tspan><tspan dy="-3.2" font-size="6.3" font-style="normal">fl/fl</tspan></text>
</g>
</svg>
</body></html>
